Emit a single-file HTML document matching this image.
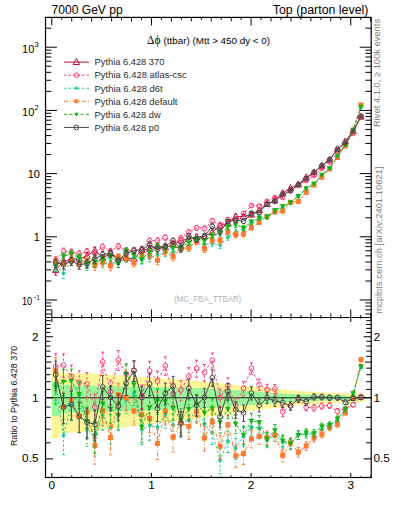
<!DOCTYPE html><html><head><meta charset="utf-8"><style>html,body{margin:0;padding:0;background:#fff;}svg{display:block;}text{font-family:"Liberation Sans",sans-serif;}</style></head><body>
<svg width="393" height="512" viewBox="0 0 393 512">
<defs><clipPath id="cm"><rect x="45.5" y="17.4" width="325.7" height="300.1"/></clipPath>
<clipPath id="cr"><rect x="45.5" y="317.5" width="325.7" height="160.0"/></clipPath></defs>
<g clip-path="url(#cr)">
<polygon points="51.80,370.07 59.63,370.07 59.63,372.68 67.45,372.68 67.45,372.90 75.28,372.90 75.28,373.13 83.11,373.13 83.11,373.35 90.93,373.35 90.93,373.85 98.76,373.85 98.76,374.35 106.59,374.35 106.59,374.86 114.41,374.86 114.41,375.37 122.24,375.37 122.24,375.92 130.06,375.92 130.06,376.47 137.89,376.47 137.89,377.03 145.72,377.03 145.72,377.58 153.54,377.58 153.54,378.15 161.37,378.15 161.37,378.71 169.20,378.71 169.20,379.28 177.02,379.28 177.02,379.85 184.85,379.85 184.85,380.43 192.68,380.43 192.68,381.01 200.50,381.01 200.50,381.78 208.33,381.78 208.33,382.55 216.16,382.55 216.16,383.33 223.98,383.33 223.98,384.12 231.81,384.12 231.81,384.92 239.64,384.92 239.64,385.72 247.46,385.72 247.46,386.47 255.29,386.47 255.29,387.22 263.12,387.22 263.12,387.98 270.94,387.98 270.94,388.73 278.77,388.73 278.77,389.49 286.59,389.49 286.59,390.25 294.42,390.25 294.42,391.02 302.25,391.02 302.25,391.43 310.07,391.43 310.07,391.84 317.90,391.84 317.90,392.25 325.73,392.25 325.73,392.67 333.55,392.67 333.55,392.94 341.38,392.94 341.38,393.21 349.21,393.21 349.21,393.48 357.03,393.48 357.03,393.75 364.86,393.75 364.86,402.04 357.03,402.04 357.03,402.34 349.21,402.34 349.21,402.64 341.38,402.64 341.38,402.95 333.55,402.95 333.55,403.25 325.73,403.25 325.73,403.72 317.90,403.72 317.90,404.19 310.07,404.19 310.07,404.67 302.25,404.67 302.25,405.14 294.42,405.14 294.42,406.06 286.59,406.06 286.59,406.98 278.77,406.98 278.77,407.92 270.94,407.92 270.94,408.86 263.12,408.86 263.12,409.83 255.29,409.83 255.29,410.81 247.46,410.81 247.46,411.80 239.64,411.80 239.64,412.89 231.81,412.89 231.81,414.00 223.98,414.00 223.98,415.12 216.16,415.12 216.16,416.25 208.33,416.25 208.33,417.40 200.50,417.40 200.50,418.56 192.68,418.56 192.68,419.46 184.85,419.46 184.85,420.36 177.02,420.36 177.02,421.28 169.20,421.28 169.20,422.20 161.37,422.20 161.37,423.14 153.54,423.14 153.54,424.08 145.72,424.08 145.72,425.04 137.89,425.04 137.89,426.00 130.06,426.00 130.06,426.98 122.24,426.98 122.24,427.96 114.41,427.96 114.41,428.90 106.59,428.90 106.59,429.85 98.76,429.85 98.76,430.80 90.93,430.80 90.93,431.77 83.11,431.77 83.11,432.20 75.28,432.20 75.28,432.63 67.45,432.63 67.45,433.07 59.63,433.07 59.63,438.49 51.80,438.49" fill="#fdf59a"/>
<polygon points="51.80,382.48 59.63,382.48 59.63,384.73 67.45,384.73 67.45,384.98 75.28,384.98 75.28,385.24 83.11,385.24 83.11,385.49 90.93,385.49 90.93,385.68 98.76,385.68 98.76,385.87 106.59,385.87 106.59,386.07 114.41,386.07 114.41,386.26 122.24,386.26 122.24,386.41 130.06,386.41 130.06,386.57 137.89,386.57 137.89,386.72 145.72,386.72 145.72,386.88 153.54,386.88 153.54,387.04 161.37,387.04 161.37,387.27 169.20,387.27 169.20,387.50 177.02,387.50 177.02,387.74 184.85,387.74 184.85,387.98 192.68,387.98 192.68,388.21 200.50,388.21 200.50,388.61 208.33,388.61 208.33,389.01 216.16,389.01 216.16,389.41 223.98,389.41 223.98,389.81 231.81,389.81 231.81,390.21 239.64,390.21 239.64,390.61 247.46,390.61 247.46,391.24 255.29,391.24 255.29,391.87 263.12,391.87 263.12,392.50 270.94,392.50 270.94,392.96 278.77,392.96 278.77,393.42 286.59,393.42 286.59,393.88 294.42,393.88 294.42,394.35 302.25,394.35 302.25,394.56 310.07,394.56 310.07,394.77 317.90,394.77 317.90,394.98 325.73,394.98 325.73,395.20 333.55,395.20 333.55,395.37 341.38,395.37 341.38,395.54 349.21,395.54 349.21,395.71 357.03,395.71 357.03,395.88 364.86,395.88 364.86,399.76 357.03,399.76 357.03,399.94 349.21,399.94 349.21,400.12 341.38,400.12 341.38,400.30 333.55,400.30 333.55,400.48 325.73,400.48 325.73,400.71 317.90,400.71 317.90,400.94 310.07,400.94 310.07,401.17 302.25,401.17 302.25,401.40 294.42,401.40 294.42,401.90 286.59,401.90 286.59,402.41 278.77,402.41 278.77,402.92 270.94,402.92 270.94,403.44 263.12,403.44 263.12,404.16 255.29,404.16 255.29,404.89 247.46,404.89 247.46,405.62 239.64,405.62 239.64,406.11 231.81,406.11 231.81,406.59 223.98,406.59 223.98,407.08 216.16,407.08 216.16,407.57 208.33,407.57 208.33,408.06 200.50,408.06 200.50,408.56 192.68,408.56 192.68,408.86 184.85,408.86 184.85,409.16 177.02,409.16 177.02,409.46 169.20,409.46 169.20,409.76 161.37,409.76 161.37,410.07 153.54,410.07 153.54,410.27 145.72,410.27 145.72,410.47 137.89,410.47 137.89,410.68 130.06,410.68 130.06,410.88 122.24,410.88 122.24,411.08 114.41,411.08 114.41,411.34 106.59,411.34 106.59,411.60 98.76,411.60 98.76,411.86 90.93,411.86 90.93,412.11 83.11,412.11 83.11,412.46 75.28,412.46 75.28,412.81 67.45,412.81 67.45,413.16 59.63,413.16 59.63,416.36 51.80,416.36" fill="#9af59a"/>
</g>
<line x1="45.5" y1="397.8" x2="371.2" y2="397.8" stroke="#1a1a1a" stroke-width="1.1"/>
<g clip-path="url(#cr)">
<polyline points="55.7,366.8 63.5,364.9 71.4,376.4 79.2,382.3 87.0,384.0 94.8,406.9 102.7,361.9 110.5,391.6 118.3,360.0 126.2,374.0 134.0,370.5 141.8,396.0 149.6,370.9 157.5,381.0 165.3,365.8 173.1,393.9 180.9,390.0 188.8,376.3 196.6,368.4 204.4,372.5 212.2,360.2 220.1,397.5 227.9,385.3 235.7,405.8 243.5,388.4 251.4,368.4 259.2,384.5 267.0,389.4 274.9,389.1 282.7,411.6 290.5,405.8 298.3,398.8 306.2,407.3 314.0,407.8 321.8,406.0 329.6,405.5 337.5,411.2 345.3,409.0 353.1,404.7 360.9,396.6" fill="none" stroke="#ff3c6e" stroke-width="1" stroke-dasharray="2.5,2"/>
<path d="M55.7 353.8V364.2M55.7 369.4V382.1M63.5 353.9V362.3M63.5 367.5V377.4M71.4 365.0V373.8M71.4 379.0V389.6M79.2 370.7V379.7M79.2 384.9V395.6M87.0 372.6V381.4M87.0 386.6V397.2M94.8 394.2V404.3M94.8 409.5V421.8M102.7 352.1V359.3M102.7 364.5V373.0M110.5 380.2V389.0M110.5 394.2V404.6M118.3 350.6V357.4M118.3 362.6V370.6M126.2 364.0V371.4M126.2 376.6V385.3M134.0 360.8V367.9M134.0 373.1V381.4M141.8 385.0V393.4M141.8 398.6V408.5M149.6 361.4V368.3M149.6 373.5V381.5M157.5 371.2V378.4M157.5 383.6V392.1M165.3 356.9V363.2M165.3 368.4V375.7M173.1 383.8V391.3M173.1 396.5V405.3M180.9 380.4V387.4M180.9 392.6V400.8M188.8 367.6V373.7M188.8 378.9V386.0M196.6 360.2V365.8M196.6 371.0V377.4M204.4 364.5V369.9M204.4 375.1V381.3M212.2 353.0V357.6M212.2 362.8V368.0M220.1 389.1V394.9M220.1 400.1V406.8M227.9 377.8V382.7M227.9 387.9V393.5M235.7 397.9V403.2M235.7 408.4V414.5M243.5 381.6V385.8M243.5 391.0V395.8M251.4 362.8V365.8M251.4 371.0V374.4M259.2 379.0V381.9M259.2 387.1V390.4M267.0 384.3V386.8M267.0 392.0V394.8M274.9 384.5V386.5M274.9 391.7V394.0M282.7 406.9V409.0M282.7 414.2V416.6M290.5 401.7V403.2M290.5 408.4V410.1M298.3 395.3V396.1M298.3 401.4V402.4M306.2 403.9V404.7M306.2 409.9V410.9M314.0 404.6V405.2M314.0 410.4V411.1M321.8 403.1V403.4M321.8 408.6V409.1M329.6 402.8V402.9M329.6 408.1V408.3M337.5 408.6V408.6M337.5 413.9V414.0" stroke="#ff3c6e" stroke-width="1" fill="none" stroke-dasharray="2.5,2"/>
<path d="M54.2 353.8h3M54.2 382.1h3M62.0 353.9h3M62.0 377.4h3M69.9 365.0h3M69.9 389.6h3M77.7 370.7h3M77.7 395.6h3M85.5 372.6h3M85.5 397.2h3M93.3 394.2h3M93.3 421.8h3M101.2 352.1h3M101.2 373.0h3M109.0 380.2h3M109.0 404.6h3M116.8 350.6h3M116.8 370.6h3M124.7 364.0h3M124.7 385.3h3M132.5 360.8h3M132.5 381.4h3M140.3 385.0h3M140.3 408.5h3M148.1 361.4h3M148.1 381.5h3M156.0 371.2h3M156.0 392.1h3M163.8 356.9h3M163.8 375.7h3M171.6 383.8h3M171.6 405.3h3M179.4 380.4h3M179.4 400.8h3M187.3 367.6h3M187.3 386.0h3M195.1 360.2h3M195.1 377.4h3M202.9 364.5h3M202.9 381.3h3M210.7 353.0h3M210.7 368.0h3M218.6 389.1h3M218.6 406.8h3M226.4 377.8h3M226.4 393.5h3M234.2 397.9h3M234.2 414.5h3M242.0 381.6h3M242.0 395.8h3M249.9 362.8h3M249.9 374.4h3M257.7 379.0h3M257.7 390.4h3M265.5 384.3h3M265.5 394.8h3M273.4 384.5h3M273.4 394.0h3M281.2 406.9h3M281.2 416.6h3M289.0 401.7h3M289.0 410.1h3M296.8 395.3h3M296.8 402.4h3M304.7 403.9h3M304.7 410.9h3M312.5 404.6h3M312.5 411.1h3M320.3 403.1h3M320.3 409.1h3M328.1 402.8h3M328.1 408.3h3M336.0 408.6h3M336.0 414.0h3M343.8 406.6h3M343.8 411.5h3M351.6 402.5h3M351.6 406.9h3M359.4 394.7h3M359.4 398.5h3" stroke="#ff3c6e" stroke-width="1" fill="none"/>
<circle cx="55.71" cy="366.80" r="2.40" fill="none" stroke="#ff3c6e" stroke-width="1"/><circle cx="63.54" cy="364.90" r="2.40" fill="none" stroke="#ff3c6e" stroke-width="1"/><circle cx="71.37" cy="376.40" r="2.40" fill="none" stroke="#ff3c6e" stroke-width="1"/><circle cx="79.19" cy="382.30" r="2.40" fill="none" stroke="#ff3c6e" stroke-width="1"/><circle cx="87.02" cy="384.00" r="2.40" fill="none" stroke="#ff3c6e" stroke-width="1"/><circle cx="94.85" cy="406.90" r="2.40" fill="none" stroke="#ff3c6e" stroke-width="1"/><circle cx="102.67" cy="361.90" r="2.40" fill="none" stroke="#ff3c6e" stroke-width="1"/><circle cx="110.50" cy="391.60" r="2.40" fill="none" stroke="#ff3c6e" stroke-width="1"/><circle cx="118.33" cy="360.00" r="2.40" fill="none" stroke="#ff3c6e" stroke-width="1"/><circle cx="126.15" cy="374.00" r="2.40" fill="none" stroke="#ff3c6e" stroke-width="1"/><circle cx="133.98" cy="370.50" r="2.40" fill="none" stroke="#ff3c6e" stroke-width="1"/><circle cx="141.80" cy="396.00" r="2.40" fill="none" stroke="#ff3c6e" stroke-width="1"/><circle cx="149.63" cy="370.90" r="2.40" fill="none" stroke="#ff3c6e" stroke-width="1"/><circle cx="157.46" cy="381.00" r="2.40" fill="none" stroke="#ff3c6e" stroke-width="1"/><circle cx="165.28" cy="365.80" r="2.40" fill="none" stroke="#ff3c6e" stroke-width="1"/><circle cx="173.11" cy="393.90" r="2.40" fill="none" stroke="#ff3c6e" stroke-width="1"/><circle cx="180.94" cy="390.00" r="2.40" fill="none" stroke="#ff3c6e" stroke-width="1"/><circle cx="188.76" cy="376.30" r="2.40" fill="none" stroke="#ff3c6e" stroke-width="1"/><circle cx="196.59" cy="368.40" r="2.40" fill="none" stroke="#ff3c6e" stroke-width="1"/><circle cx="204.42" cy="372.50" r="2.40" fill="none" stroke="#ff3c6e" stroke-width="1"/><circle cx="212.24" cy="360.20" r="2.40" fill="none" stroke="#ff3c6e" stroke-width="1"/><circle cx="220.07" cy="397.50" r="2.40" fill="none" stroke="#ff3c6e" stroke-width="1"/><circle cx="227.90" cy="385.30" r="2.40" fill="none" stroke="#ff3c6e" stroke-width="1"/><circle cx="235.72" cy="405.80" r="2.40" fill="none" stroke="#ff3c6e" stroke-width="1"/><circle cx="243.55" cy="388.40" r="2.40" fill="none" stroke="#ff3c6e" stroke-width="1"/><circle cx="251.38" cy="368.40" r="2.40" fill="none" stroke="#ff3c6e" stroke-width="1"/><circle cx="259.20" cy="384.50" r="2.40" fill="none" stroke="#ff3c6e" stroke-width="1"/><circle cx="267.03" cy="389.40" r="2.40" fill="none" stroke="#ff3c6e" stroke-width="1"/><circle cx="274.86" cy="389.10" r="2.40" fill="none" stroke="#ff3c6e" stroke-width="1"/><circle cx="282.68" cy="411.60" r="2.40" fill="none" stroke="#ff3c6e" stroke-width="1"/><circle cx="290.51" cy="405.80" r="2.40" fill="none" stroke="#ff3c6e" stroke-width="1"/><circle cx="298.33" cy="398.75" r="2.40" fill="none" stroke="#ff3c6e" stroke-width="1"/><circle cx="306.16" cy="407.30" r="2.40" fill="none" stroke="#ff3c6e" stroke-width="1"/><circle cx="313.99" cy="407.80" r="2.40" fill="none" stroke="#ff3c6e" stroke-width="1"/><circle cx="321.81" cy="406.00" r="2.40" fill="none" stroke="#ff3c6e" stroke-width="1"/><circle cx="329.64" cy="405.50" r="2.40" fill="none" stroke="#ff3c6e" stroke-width="1"/><circle cx="337.47" cy="411.25" r="2.40" fill="none" stroke="#ff3c6e" stroke-width="1"/><circle cx="345.29" cy="409.00" r="2.40" fill="none" stroke="#ff3c6e" stroke-width="1"/><circle cx="353.12" cy="404.70" r="2.40" fill="none" stroke="#ff3c6e" stroke-width="1"/><circle cx="360.95" cy="396.60" r="2.40" fill="none" stroke="#ff3c6e" stroke-width="1"/>
</g>
<g clip-path="url(#cr)">
<polyline points="55.7,383.6 63.5,435.3 71.4,404.5 79.2,394.4 87.0,429.0 94.8,438.0 102.7,415.0 110.5,427.8 118.3,415.0 126.2,400.0 134.0,393.1 141.8,429.4 149.6,425.5 157.5,427.0 165.3,415.0 173.1,425.0 180.9,424.0 188.8,420.0 196.6,410.0 204.4,423.9 212.2,432.5 220.1,460.3 227.9,441.1 235.7,448.1 243.5,436.4 251.4,427.0 259.2,427.8 267.0,440.5 274.9,435.0 282.7,442.0 290.5,444.4 298.3,435.0 306.2,434.0 314.0,435.0 321.8,429.5 329.6,426.0 337.5,420.0 345.3,410.0 353.1,395.0 360.9,367.0" fill="none" stroke="#22cc8e" stroke-width="1" stroke-dasharray="2.5,2"/>
<path d="M55.7 369.4V383.6M55.7 383.6V400.6M63.5 419.4V435.3M63.5 435.3V454.7M71.4 391.2V404.5M71.4 404.5V420.1M79.2 382.1V394.4M79.2 394.4V408.8M87.0 414.5V429.0M87.0 429.0V446.4M94.8 423.0V438.0M94.8 438.0V456.1M102.7 401.9V415.0M102.7 415.0V430.3M110.5 414.1V427.8M110.5 427.8V444.1M118.3 402.4V415.0M118.3 415.0V429.8M126.2 388.5V400.0M126.2 400.0V413.3M134.0 382.1V393.1M134.0 393.1V405.6M141.8 416.3V429.4M141.8 429.4V444.8M149.6 412.8V425.5M149.6 425.5V440.3M157.5 414.4V427.0M157.5 427.0V441.7M165.3 403.5V415.0M165.3 415.0V428.3M173.1 413.1V425.0M173.1 425.0V438.8M180.9 412.4V424.0M180.9 424.0V437.3M188.8 408.9V420.0M188.8 420.0V432.7M196.6 399.8V410.0M196.6 410.0V421.6M204.4 413.3V423.9M204.4 423.9V435.9M212.2 421.9V432.5M212.2 432.5V444.5M220.1 448.6V460.3M220.1 460.3V473.8M227.9 431.0V441.1M227.9 441.1V452.5M235.7 438.1V448.1M235.7 448.1V459.3M243.5 427.5V436.4M243.5 436.4V446.3M251.4 419.3V427.0M251.4 427.0V435.4M259.2 420.8V427.8M259.2 427.8V435.4M267.0 433.8V440.5M267.0 440.5V447.7M274.9 429.1V435.0M274.9 435.0V441.4M282.7 436.4V442.0M282.7 442.0V448.0M290.5 439.3V444.4M290.5 444.4V449.8M298.3 430.8V435.0M298.3 435.0V439.5M306.2 430.0V434.0M306.2 434.0V438.2M314.0 431.3V435.0M314.0 435.0V438.9M321.8 426.1V429.5M321.8 429.5V433.0M329.6 423.0V426.0M329.6 426.0V429.2M337.5 417.2V420.0M337.5 420.0V422.8M345.3 407.6V410.0M345.3 410.0V412.5M353.1 392.9V395.0M353.1 395.0V397.1M360.9 365.4V367.0M360.9 367.0V368.6" stroke="#22cc8e" stroke-width="1" fill="none" stroke-dasharray="2.5,2"/>
<path d="M54.2 369.4h3M54.2 400.6h3M62.0 419.4h3M62.0 454.7h3M69.9 391.2h3M69.9 420.1h3M77.7 382.1h3M77.7 408.8h3M85.5 414.5h3M85.5 446.4h3M93.3 423.0h3M93.3 456.1h3M101.2 401.9h3M101.2 430.3h3M109.0 414.1h3M109.0 444.1h3M116.8 402.4h3M116.8 429.8h3M124.7 388.5h3M124.7 413.3h3M132.5 382.1h3M132.5 405.6h3M140.3 416.3h3M140.3 444.8h3M148.1 412.8h3M148.1 440.3h3M156.0 414.4h3M156.0 441.7h3M163.8 403.5h3M163.8 428.3h3M171.6 413.1h3M171.6 438.8h3M179.4 412.4h3M179.4 437.3h3M187.3 408.9h3M187.3 432.7h3M195.1 399.8h3M195.1 421.6h3M202.9 413.3h3M202.9 435.9h3M210.7 421.9h3M210.7 444.5h3M218.6 448.6h3M218.6 473.8h3M226.4 431.0h3M226.4 452.5h3M234.2 438.1h3M234.2 459.3h3M242.0 427.5h3M242.0 446.3h3M249.9 419.3h3M249.9 435.4h3M257.7 420.8h3M257.7 435.4h3M265.5 433.8h3M265.5 447.7h3M273.4 429.1h3M273.4 441.4h3M281.2 436.4h3M281.2 448.0h3M289.0 439.3h3M289.0 449.8h3M296.8 430.8h3M296.8 439.5h3M304.7 430.0h3M304.7 438.2h3M312.5 431.3h3M312.5 438.9h3M320.3 426.1h3M320.3 433.0h3M328.1 423.0h3M328.1 429.2h3M336.0 417.2h3M336.0 422.8h3M343.8 407.6h3M343.8 412.5h3M351.6 392.9h3M351.6 397.1h3M359.4 365.4h3M359.4 368.6h3" stroke="#22cc8e" stroke-width="1" fill="none"/>
<polygon points="55.71,380.80 57.95,383.60 55.71,386.40 53.47,383.60" fill="#22cc8e"/><polygon points="63.54,432.50 65.78,435.30 63.54,438.10 61.30,435.30" fill="#22cc8e"/><polygon points="71.37,401.70 73.61,404.50 71.37,407.30 69.13,404.50" fill="#22cc8e"/><polygon points="79.19,391.60 81.43,394.40 79.19,397.20 76.95,394.40" fill="#22cc8e"/><polygon points="87.02,426.20 89.26,429.00 87.02,431.80 84.78,429.00" fill="#22cc8e"/><polygon points="94.85,435.20 97.09,438.00 94.85,440.80 92.61,438.00" fill="#22cc8e"/><polygon points="102.67,412.20 104.91,415.00 102.67,417.80 100.43,415.00" fill="#22cc8e"/><polygon points="110.50,425.00 112.74,427.80 110.50,430.60 108.26,427.80" fill="#22cc8e"/><polygon points="118.33,412.20 120.57,415.00 118.33,417.80 116.09,415.00" fill="#22cc8e"/><polygon points="126.15,397.20 128.39,400.00 126.15,402.80 123.91,400.00" fill="#22cc8e"/><polygon points="133.98,390.30 136.22,393.10 133.98,395.90 131.74,393.10" fill="#22cc8e"/><polygon points="141.80,426.60 144.04,429.40 141.80,432.20 139.56,429.40" fill="#22cc8e"/><polygon points="149.63,422.70 151.87,425.50 149.63,428.30 147.39,425.50" fill="#22cc8e"/><polygon points="157.46,424.20 159.70,427.00 157.46,429.80 155.22,427.00" fill="#22cc8e"/><polygon points="165.28,412.20 167.52,415.00 165.28,417.80 163.04,415.00" fill="#22cc8e"/><polygon points="173.11,422.20 175.35,425.00 173.11,427.80 170.87,425.00" fill="#22cc8e"/><polygon points="180.94,421.20 183.18,424.00 180.94,426.80 178.70,424.00" fill="#22cc8e"/><polygon points="188.76,417.20 191.00,420.00 188.76,422.80 186.52,420.00" fill="#22cc8e"/><polygon points="196.59,407.20 198.83,410.00 196.59,412.80 194.35,410.00" fill="#22cc8e"/><polygon points="204.42,421.10 206.66,423.90 204.42,426.70 202.18,423.90" fill="#22cc8e"/><polygon points="212.24,429.70 214.48,432.50 212.24,435.30 210.00,432.50" fill="#22cc8e"/><polygon points="220.07,457.50 222.31,460.30 220.07,463.10 217.83,460.30" fill="#22cc8e"/><polygon points="227.90,438.30 230.14,441.10 227.90,443.90 225.66,441.10" fill="#22cc8e"/><polygon points="235.72,445.30 237.96,448.10 235.72,450.90 233.48,448.10" fill="#22cc8e"/><polygon points="243.55,433.60 245.79,436.40 243.55,439.20 241.31,436.40" fill="#22cc8e"/><polygon points="251.38,424.20 253.62,427.00 251.38,429.80 249.14,427.00" fill="#22cc8e"/><polygon points="259.20,425.00 261.44,427.80 259.20,430.60 256.96,427.80" fill="#22cc8e"/><polygon points="267.03,437.70 269.27,440.50 267.03,443.30 264.79,440.50" fill="#22cc8e"/><polygon points="274.86,432.20 277.10,435.00 274.86,437.80 272.62,435.00" fill="#22cc8e"/><polygon points="282.68,439.20 284.92,442.00 282.68,444.80 280.44,442.00" fill="#22cc8e"/><polygon points="290.51,441.60 292.75,444.40 290.51,447.20 288.27,444.40" fill="#22cc8e"/><polygon points="298.33,432.20 300.57,435.00 298.33,437.80 296.09,435.00" fill="#22cc8e"/><polygon points="306.16,431.20 308.40,434.00 306.16,436.80 303.92,434.00" fill="#22cc8e"/><polygon points="313.99,432.20 316.23,435.00 313.99,437.80 311.75,435.00" fill="#22cc8e"/><polygon points="321.81,426.70 324.05,429.50 321.81,432.30 319.57,429.50" fill="#22cc8e"/><polygon points="329.64,423.20 331.88,426.00 329.64,428.80 327.40,426.00" fill="#22cc8e"/><polygon points="337.47,417.20 339.71,420.00 337.47,422.80 335.23,420.00" fill="#22cc8e"/><polygon points="345.29,407.20 347.53,410.00 345.29,412.80 343.05,410.00" fill="#22cc8e"/><polygon points="353.12,392.20 355.36,395.00 353.12,397.80 350.88,395.00" fill="#22cc8e"/><polygon points="360.95,364.20 363.19,367.00 360.95,369.80 358.71,367.00" fill="#22cc8e"/>
</g>
<g clip-path="url(#cr)">
<polyline points="55.7,371.0 63.5,407.0 71.4,400.5 79.2,416.0 87.0,412.0 94.8,445.3 102.7,410.8 110.5,437.5 118.3,394.7 126.2,397.5 134.0,411.0 141.8,414.5 149.6,418.3 157.5,443.4 165.3,411.0 173.1,437.2 180.9,423.0 188.8,426.3 196.6,411.6 204.4,438.0 212.2,421.6 220.1,446.3 227.9,424.7 235.7,455.9 243.5,453.6 251.4,438.8 259.2,436.4 267.0,437.6 274.9,435.0 282.7,455.3 290.5,442.8 298.3,452.2 306.2,445.9 314.0,438.1 321.8,434.2 329.6,427.3 337.5,424.2 345.3,412.5 353.1,398.4 360.9,359.7" fill="none" stroke="#ff7a30" stroke-width="1" stroke-dasharray="4,2,1,2"/>
<path d="M55.7 357.7V371.0M55.7 371.0V386.7M63.5 393.3V407.0M63.5 407.0V423.3M71.4 387.5V400.5M71.4 400.5V415.8M79.2 402.2V416.0M79.2 416.0V432.4M87.0 398.7V412.0M87.0 412.0V427.6M94.8 429.7V445.3M94.8 445.3V464.2M102.7 398.0V410.8M102.7 410.8V425.7M110.5 423.0V437.5M110.5 437.5V454.8M118.3 383.3V394.7M118.3 394.7V407.7M126.2 386.1V397.5M126.2 397.5V410.6M134.0 399.0V411.0M134.0 411.0V425.0M141.8 402.4V414.5M141.8 414.5V428.5M149.6 406.1V418.3M149.6 418.3V432.4M157.5 429.7V443.4M157.5 443.4V459.6M165.3 399.7V411.0M165.3 411.0V424.0M173.1 424.5V437.2M173.1 437.2V452.0M180.9 411.5V423.0M180.9 423.0V436.2M188.8 414.9V426.3M188.8 426.3V439.5M196.6 401.3V411.6M196.6 411.6V423.3M204.4 426.6V438.0M204.4 438.0V451.1M212.2 411.6V421.6M212.2 421.6V432.9M220.1 435.4V446.3M220.1 446.3V458.7M227.9 415.5V424.7M227.9 424.7V435.0M235.7 445.5V455.9M235.7 455.9V467.7M243.5 443.9V453.6M243.5 453.6V464.5M251.4 430.6V438.8M251.4 438.8V447.8M259.2 429.1V436.4M259.2 436.4V444.4M267.0 431.0V437.6M267.0 437.6V444.7M274.9 429.1V435.0M274.9 435.0V441.4M282.7 449.3V455.3M282.7 455.3V461.8M290.5 437.8V442.8M290.5 442.8V448.1M298.3 447.5V452.2M298.3 452.2V457.1M306.2 441.7V445.9M306.2 445.9V450.4M314.0 434.3V438.1M314.0 438.1V442.1M321.8 430.7V434.2M321.8 434.2V437.8M329.6 424.2V427.3M329.6 427.3V430.5M337.5 421.4V424.2M337.5 424.2V427.1M345.3 410.0V412.5M345.3 412.5V415.0M353.1 396.3V398.4M353.1 398.4V400.5M360.9 358.2V359.7M360.9 359.7V361.3" stroke="#ff7a30" stroke-width="1" fill="none" stroke-dasharray="4,2,1,2"/>
<path d="M54.2 357.7h3M54.2 386.7h3M62.0 393.3h3M62.0 423.3h3M69.9 387.5h3M69.9 415.8h3M77.7 402.2h3M77.7 432.4h3M85.5 398.7h3M85.5 427.6h3M93.3 429.7h3M93.3 464.2h3M101.2 398.0h3M101.2 425.7h3M109.0 423.0h3M109.0 454.8h3M116.8 383.3h3M116.8 407.7h3M124.7 386.1h3M124.7 410.6h3M132.5 399.0h3M132.5 425.0h3M140.3 402.4h3M140.3 428.5h3M148.1 406.1h3M148.1 432.4h3M156.0 429.7h3M156.0 459.6h3M163.8 399.7h3M163.8 424.0h3M171.6 424.5h3M171.6 452.0h3M179.4 411.5h3M179.4 436.2h3M187.3 414.9h3M187.3 439.5h3M195.1 401.3h3M195.1 423.3h3M202.9 426.6h3M202.9 451.1h3M210.7 411.6h3M210.7 432.9h3M218.6 435.4h3M218.6 458.7h3M226.4 415.5h3M226.4 435.0h3M234.2 445.5h3M234.2 467.7h3M242.0 443.9h3M242.0 464.5h3M249.9 430.6h3M249.9 447.8h3M257.7 429.1h3M257.7 444.4h3M265.5 431.0h3M265.5 444.7h3M273.4 429.1h3M273.4 441.4h3M281.2 449.3h3M281.2 461.8h3M289.0 437.8h3M289.0 448.1h3M296.8 447.5h3M296.8 457.1h3M304.7 441.7h3M304.7 450.4h3M312.5 434.3h3M312.5 442.1h3M320.3 430.7h3M320.3 437.8h3M328.1 424.2h3M328.1 430.5h3M336.0 421.4h3M336.0 427.1h3M343.8 410.0h3M343.8 415.0h3M351.6 396.3h3M351.6 400.5h3M359.4 358.2h3M359.4 361.3h3" stroke="#ff7a30" stroke-width="1" fill="none"/>
<rect x="53.21" y="368.50" width="5.00" height="5.00" fill="#ff7a30"/><rect x="61.04" y="404.50" width="5.00" height="5.00" fill="#ff7a30"/><rect x="68.87" y="398.00" width="5.00" height="5.00" fill="#ff7a30"/><rect x="76.69" y="413.50" width="5.00" height="5.00" fill="#ff7a30"/><rect x="84.52" y="409.50" width="5.00" height="5.00" fill="#ff7a30"/><rect x="92.35" y="442.80" width="5.00" height="5.00" fill="#ff7a30"/><rect x="100.17" y="408.30" width="5.00" height="5.00" fill="#ff7a30"/><rect x="108.00" y="435.00" width="5.00" height="5.00" fill="#ff7a30"/><rect x="115.83" y="392.20" width="5.00" height="5.00" fill="#ff7a30"/><rect x="123.65" y="395.00" width="5.00" height="5.00" fill="#ff7a30"/><rect x="131.48" y="408.50" width="5.00" height="5.00" fill="#ff7a30"/><rect x="139.30" y="412.00" width="5.00" height="5.00" fill="#ff7a30"/><rect x="147.13" y="415.80" width="5.00" height="5.00" fill="#ff7a30"/><rect x="154.96" y="440.90" width="5.00" height="5.00" fill="#ff7a30"/><rect x="162.78" y="408.50" width="5.00" height="5.00" fill="#ff7a30"/><rect x="170.61" y="434.70" width="5.00" height="5.00" fill="#ff7a30"/><rect x="178.44" y="420.50" width="5.00" height="5.00" fill="#ff7a30"/><rect x="186.26" y="423.80" width="5.00" height="5.00" fill="#ff7a30"/><rect x="194.09" y="409.10" width="5.00" height="5.00" fill="#ff7a30"/><rect x="201.92" y="435.50" width="5.00" height="5.00" fill="#ff7a30"/><rect x="209.74" y="419.10" width="5.00" height="5.00" fill="#ff7a30"/><rect x="217.57" y="443.80" width="5.00" height="5.00" fill="#ff7a30"/><rect x="225.40" y="422.20" width="5.00" height="5.00" fill="#ff7a30"/><rect x="233.22" y="453.40" width="5.00" height="5.00" fill="#ff7a30"/><rect x="241.05" y="451.10" width="5.00" height="5.00" fill="#ff7a30"/><rect x="248.88" y="436.25" width="5.00" height="5.00" fill="#ff7a30"/><rect x="256.70" y="433.90" width="5.00" height="5.00" fill="#ff7a30"/><rect x="264.53" y="435.10" width="5.00" height="5.00" fill="#ff7a30"/><rect x="272.36" y="432.50" width="5.00" height="5.00" fill="#ff7a30"/><rect x="280.18" y="452.80" width="5.00" height="5.00" fill="#ff7a30"/><rect x="288.01" y="440.30" width="5.00" height="5.00" fill="#ff7a30"/><rect x="295.83" y="449.70" width="5.00" height="5.00" fill="#ff7a30"/><rect x="303.66" y="443.40" width="5.00" height="5.00" fill="#ff7a30"/><rect x="311.49" y="435.60" width="5.00" height="5.00" fill="#ff7a30"/><rect x="319.31" y="431.70" width="5.00" height="5.00" fill="#ff7a30"/><rect x="327.14" y="424.80" width="5.00" height="5.00" fill="#ff7a30"/><rect x="334.97" y="421.70" width="5.00" height="5.00" fill="#ff7a30"/><rect x="342.79" y="410.00" width="5.00" height="5.00" fill="#ff7a30"/><rect x="350.62" y="395.90" width="5.00" height="5.00" fill="#ff7a30"/><rect x="358.45" y="357.20" width="5.00" height="5.00" fill="#ff7a30"/>
</g>
<g clip-path="url(#cr)">
<polyline points="55.7,386.8 63.5,381.6 71.4,380.8 79.2,394.2 87.0,421.0 94.8,435.6 102.7,403.8 110.5,408.5 118.3,415.3 126.2,374.0 134.0,384.5 141.8,427.0 149.6,407.4 157.5,400.0 165.3,401.3 173.1,408.2 180.9,420.0 188.8,409.0 196.6,404.4 204.4,412.5 212.2,408.3 220.1,422.3 227.9,409.0 235.7,423.9 243.5,434.8 251.4,420.8 259.2,422.3 267.0,439.0 274.9,430.3 282.7,440.5 290.5,443.6 298.3,435.0 306.2,432.7 314.0,433.4 321.8,426.4 329.6,425.0 337.5,418.8 345.3,409.4 353.1,393.4 360.9,366.4" fill="none" stroke="#16b316" stroke-width="1" stroke-dasharray="3,2"/>
<path d="M55.7 372.3V386.8M55.7 386.8V404.1M63.5 369.6V381.6M63.5 381.6V395.5M71.4 369.1V380.8M71.4 380.8V394.3M79.2 381.9V394.2M79.2 394.2V408.5M87.0 407.1V421.0M87.0 421.0V437.5M94.8 420.8V435.6M94.8 435.6V453.4M102.7 391.5V403.8M102.7 403.8V418.1M110.5 396.1V408.5M110.5 408.5V423.0M118.3 402.6V415.3M118.3 415.3V430.1M126.2 364.0V374.0M126.2 374.0V385.3M134.0 374.0V384.5M134.0 384.5V396.4M141.8 414.1V427.0M141.8 427.0V442.2M149.6 395.9V407.4M149.6 407.4V420.6M157.5 389.1V400.0M157.5 400.0V412.4M165.3 390.6V401.3M165.3 401.3V413.5M173.1 397.3V408.2M173.1 408.2V420.6M180.9 408.7V420.0M180.9 420.0V433.0M188.8 398.6V409.0M188.8 409.0V420.8M196.6 394.5V404.4M196.6 404.4V415.6M204.4 402.6V412.5M204.4 412.5V423.7M212.2 399.0V408.3M212.2 408.3V418.7M220.1 412.7V422.3M220.1 422.3V433.1M227.9 400.5V409.0M227.9 409.0V418.4M235.7 415.2V423.9M235.7 423.9V433.6M243.5 426.0V434.8M243.5 434.8V444.6M251.4 413.4V420.8M251.4 420.8V428.9M259.2 415.5V422.3M259.2 422.3V429.6M267.0 432.4V439.0M267.0 439.0V446.2M274.9 424.5V430.3M274.9 430.3V436.5M282.7 435.0V440.5M282.7 440.5V446.4M290.5 438.6V443.6M290.5 443.6V449.0M298.3 430.8V435.0M298.3 435.0V439.5M306.2 428.8V432.7M306.2 432.7V436.8M314.0 429.7V433.4M314.0 433.4V437.3M321.8 423.1V426.4M321.8 426.4V429.8M329.6 422.0V425.0M329.6 425.0V428.1M337.5 416.0V418.8M337.5 418.8V421.6M345.3 407.0V409.4M345.3 409.4V411.9M353.1 391.4V393.4M353.1 393.4V395.5M360.9 364.8V366.4M360.9 366.4V368.0" stroke="#16b316" stroke-width="1" fill="none" stroke-dasharray="3,2"/>
<path d="M54.2 372.3h3M54.2 404.1h3M62.0 369.6h3M62.0 395.5h3M69.9 369.1h3M69.9 394.3h3M77.7 381.9h3M77.7 408.5h3M85.5 407.1h3M85.5 437.5h3M93.3 420.8h3M93.3 453.4h3M101.2 391.5h3M101.2 418.1h3M109.0 396.1h3M109.0 423.0h3M116.8 402.6h3M116.8 430.1h3M124.7 364.0h3M124.7 385.3h3M132.5 374.0h3M132.5 396.4h3M140.3 414.1h3M140.3 442.2h3M148.1 395.9h3M148.1 420.6h3M156.0 389.1h3M156.0 412.4h3M163.8 390.6h3M163.8 413.5h3M171.6 397.3h3M171.6 420.6h3M179.4 408.7h3M179.4 433.0h3M187.3 398.6h3M187.3 420.8h3M195.1 394.5h3M195.1 415.6h3M202.9 402.6h3M202.9 423.7h3M210.7 399.0h3M210.7 418.7h3M218.6 412.7h3M218.6 433.1h3M226.4 400.5h3M226.4 418.4h3M234.2 415.2h3M234.2 433.6h3M242.0 426.0h3M242.0 444.6h3M249.9 413.4h3M249.9 428.9h3M257.7 415.5h3M257.7 429.6h3M265.5 432.4h3M265.5 446.2h3M273.4 424.5h3M273.4 436.5h3M281.2 435.0h3M281.2 446.4h3M289.0 438.6h3M289.0 449.0h3M296.8 430.8h3M296.8 439.5h3M304.7 428.8h3M304.7 436.8h3M312.5 429.7h3M312.5 437.3h3M320.3 423.1h3M320.3 429.8h3M328.1 422.0h3M328.1 428.1h3M336.0 416.0h3M336.0 421.6h3M343.8 407.0h3M343.8 411.9h3M351.6 391.4h3M351.6 395.5h3M359.4 364.8h3M359.4 368.0h3" stroke="#16b316" stroke-width="1" fill="none"/>
<polygon points="55.71,389.92 52.91,384.72 58.51,384.72" fill="#16b316"/><polygon points="63.54,384.72 60.74,379.52 66.34,379.52" fill="#16b316"/><polygon points="71.37,383.92 68.57,378.72 74.17,378.72" fill="#16b316"/><polygon points="79.19,397.32 76.39,392.12 81.99,392.12" fill="#16b316"/><polygon points="87.02,424.12 84.22,418.92 89.82,418.92" fill="#16b316"/><polygon points="94.85,438.72 92.05,433.52 97.65,433.52" fill="#16b316"/><polygon points="102.67,406.92 99.87,401.72 105.47,401.72" fill="#16b316"/><polygon points="110.50,411.62 107.70,406.42 113.30,406.42" fill="#16b316"/><polygon points="118.33,418.42 115.53,413.22 121.13,413.22" fill="#16b316"/><polygon points="126.15,377.12 123.35,371.92 128.95,371.92" fill="#16b316"/><polygon points="133.98,387.62 131.18,382.42 136.78,382.42" fill="#16b316"/><polygon points="141.80,430.12 139.00,424.92 144.60,424.92" fill="#16b316"/><polygon points="149.63,410.52 146.83,405.32 152.43,405.32" fill="#16b316"/><polygon points="157.46,403.12 154.66,397.92 160.26,397.92" fill="#16b316"/><polygon points="165.28,404.42 162.48,399.22 168.08,399.22" fill="#16b316"/><polygon points="173.11,411.32 170.31,406.12 175.91,406.12" fill="#16b316"/><polygon points="180.94,423.12 178.14,417.92 183.74,417.92" fill="#16b316"/><polygon points="188.76,412.12 185.96,406.92 191.56,406.92" fill="#16b316"/><polygon points="196.59,407.52 193.79,402.32 199.39,402.32" fill="#16b316"/><polygon points="204.42,415.62 201.62,410.42 207.22,410.42" fill="#16b316"/><polygon points="212.24,411.42 209.44,406.22 215.04,406.22" fill="#16b316"/><polygon points="220.07,425.42 217.27,420.22 222.87,420.22" fill="#16b316"/><polygon points="227.90,412.12 225.10,406.92 230.70,406.92" fill="#16b316"/><polygon points="235.72,427.02 232.92,421.82 238.52,421.82" fill="#16b316"/><polygon points="243.55,437.92 240.75,432.72 246.35,432.72" fill="#16b316"/><polygon points="251.38,423.92 248.58,418.72 254.18,418.72" fill="#16b316"/><polygon points="259.20,425.42 256.40,420.22 262.00,420.22" fill="#16b316"/><polygon points="267.03,442.12 264.23,436.92 269.83,436.92" fill="#16b316"/><polygon points="274.86,433.42 272.06,428.22 277.66,428.22" fill="#16b316"/><polygon points="282.68,443.62 279.88,438.42 285.48,438.42" fill="#16b316"/><polygon points="290.51,446.72 287.71,441.52 293.31,441.52" fill="#16b316"/><polygon points="298.33,438.12 295.53,432.92 301.13,432.92" fill="#16b316"/><polygon points="306.16,435.82 303.36,430.62 308.96,430.62" fill="#16b316"/><polygon points="313.99,436.52 311.19,431.32 316.79,431.32" fill="#16b316"/><polygon points="321.81,429.52 319.01,424.32 324.61,424.32" fill="#16b316"/><polygon points="329.64,428.12 326.84,422.92 332.44,422.92" fill="#16b316"/><polygon points="337.47,421.87 334.67,416.67 340.27,416.67" fill="#16b316"/><polygon points="345.29,412.52 342.49,407.32 348.09,407.32" fill="#16b316"/><polygon points="353.12,396.52 350.32,391.32 355.92,391.32" fill="#16b316"/><polygon points="360.95,369.52 358.15,364.32 363.75,364.32" fill="#16b316"/>
</g>
<g clip-path="url(#cr)">
<polyline points="55.7,374.8 63.5,407.1 71.4,404.5 79.2,416.3 87.0,422.2 94.8,424.3 102.7,386.9 110.5,397.5 118.3,406.2 126.2,383.3 134.0,370.5 141.8,397.5 149.6,384.1 157.5,408.5 165.3,393.4 173.1,386.1 180.9,423.0 188.8,388.4 196.6,405.3 204.4,397.5 212.2,377.8 220.1,416.7 227.9,391.3 235.7,409.8 243.5,412.8 251.4,393.1 259.2,405.3 267.0,398.0 274.9,401.1 282.7,402.7 290.5,405.8 298.3,398.8 306.2,401.6 314.0,396.9 321.8,397.0 329.6,397.7 337.5,397.7 345.3,402.3 353.1,398.4 360.9,397.5" fill="none" stroke="#474747" stroke-width="1"/>
<path d="M55.7 361.2V372.2M55.7 377.4V390.9M63.5 393.4V404.5M63.5 409.7V423.4M71.4 391.2V401.9M71.4 407.1V420.1M79.2 402.4V413.7M79.2 418.9V432.7M87.0 408.2V419.6M87.0 424.8V438.9M94.8 410.4V421.7M94.8 426.9V440.9M102.7 375.6V384.3M102.7 389.5V399.8M110.5 385.8V394.9M110.5 400.1V411.0M118.3 394.1V403.6M118.3 408.8V420.2M126.2 372.8V380.7M126.2 385.9V395.3M134.0 360.8V367.9M134.0 373.1V381.4M141.8 386.4V394.9M141.8 400.1V410.1M149.6 374.0V381.5M149.6 386.7V395.6M157.5 397.1V405.9M157.5 411.1V421.6M165.3 383.1V390.8M165.3 396.0V405.0M173.1 376.4V383.5M173.1 388.7V397.0M180.9 411.5V420.4M180.9 425.6V436.2M188.8 379.1V385.8M188.8 391.0V398.8M196.6 395.3V402.7M196.6 407.9V416.6M204.4 388.3V394.9M204.4 400.1V407.7M212.2 369.9V375.2M212.2 380.4V386.5M220.1 407.4V414.1M220.1 419.3V427.1M227.9 383.6V388.7M227.9 393.9V399.8M235.7 401.7V407.2M235.7 412.4V418.7M243.5 405.0V410.2M243.5 415.4V421.4M251.4 386.7V390.5M251.4 395.7V400.0M259.2 399.1V402.7M259.2 407.9V411.9M267.0 392.7V395.4M267.0 400.6V403.6M274.9 396.2V398.5M274.9 403.7V406.3M282.7 398.2V400.1M282.7 405.3V407.4M290.5 401.7V403.2M290.5 408.4V410.1M298.3 395.3V396.1M298.3 401.4V402.4M306.2 398.3V399.0M306.2 404.2V405.0M314.0 393.9V394.3M314.0 399.5V400.0M321.8 394.2V394.4M321.8 399.6V399.9M329.6 395.1V395.1M329.6 400.3V400.4" stroke="#474747" stroke-width="1" fill="none"/>
<path d="M54.2 361.2h3M54.2 390.9h3M62.0 393.4h3M62.0 423.4h3M69.9 391.2h3M69.9 420.1h3M77.7 402.4h3M77.7 432.7h3M85.5 408.2h3M85.5 438.9h3M93.3 410.4h3M93.3 440.9h3M101.2 375.6h3M101.2 399.8h3M109.0 385.8h3M109.0 411.0h3M116.8 394.1h3M116.8 420.2h3M124.7 372.8h3M124.7 395.3h3M132.5 360.8h3M132.5 381.4h3M140.3 386.4h3M140.3 410.1h3M148.1 374.0h3M148.1 395.6h3M156.0 397.1h3M156.0 421.6h3M163.8 383.1h3M163.8 405.0h3M171.6 376.4h3M171.6 397.0h3M179.4 411.5h3M179.4 436.2h3M187.3 379.1h3M187.3 398.8h3M195.1 395.3h3M195.1 416.6h3M202.9 388.3h3M202.9 407.7h3M210.7 369.9h3M210.7 386.5h3M218.6 407.4h3M218.6 427.1h3M226.4 383.6h3M226.4 399.8h3M234.2 401.7h3M234.2 418.7h3M242.0 405.0h3M242.0 421.4h3M249.9 386.7h3M249.9 400.0h3M257.7 399.1h3M257.7 411.9h3M265.5 392.7h3M265.5 403.6h3M273.4 396.2h3M273.4 406.3h3M281.2 398.2h3M281.2 407.4h3M289.0 401.7h3M289.0 410.1h3M296.8 395.3h3M296.8 402.4h3M304.7 398.3h3M304.7 405.0h3M312.5 393.9h3M312.5 400.0h3M320.3 394.2h3M320.3 399.9h3M328.1 395.1h3M328.1 400.4h3M336.0 395.3h3M336.0 400.2h3M343.8 400.0h3M343.8 404.7h3M351.6 396.3h3M351.6 400.5h3M359.4 395.6h3M359.4 399.5h3" stroke="#474747" stroke-width="1" fill="none"/>
<circle cx="55.71" cy="374.80" r="2.40" fill="none" stroke="#474747" stroke-width="1"/><circle cx="63.54" cy="407.10" r="2.40" fill="none" stroke="#474747" stroke-width="1"/><circle cx="71.37" cy="404.50" r="2.40" fill="none" stroke="#474747" stroke-width="1"/><circle cx="79.19" cy="416.30" r="2.40" fill="none" stroke="#474747" stroke-width="1"/><circle cx="87.02" cy="422.20" r="2.40" fill="none" stroke="#474747" stroke-width="1"/><circle cx="94.85" cy="424.30" r="2.40" fill="none" stroke="#474747" stroke-width="1"/><circle cx="102.67" cy="386.90" r="2.40" fill="none" stroke="#474747" stroke-width="1"/><circle cx="110.50" cy="397.50" r="2.40" fill="none" stroke="#474747" stroke-width="1"/><circle cx="118.33" cy="406.20" r="2.40" fill="none" stroke="#474747" stroke-width="1"/><circle cx="126.15" cy="383.30" r="2.40" fill="none" stroke="#474747" stroke-width="1"/><circle cx="133.98" cy="370.50" r="2.40" fill="none" stroke="#474747" stroke-width="1"/><circle cx="141.80" cy="397.50" r="2.40" fill="none" stroke="#474747" stroke-width="1"/><circle cx="149.63" cy="384.10" r="2.40" fill="none" stroke="#474747" stroke-width="1"/><circle cx="157.46" cy="408.50" r="2.40" fill="none" stroke="#474747" stroke-width="1"/><circle cx="165.28" cy="393.40" r="2.40" fill="none" stroke="#474747" stroke-width="1"/><circle cx="173.11" cy="386.10" r="2.40" fill="none" stroke="#474747" stroke-width="1"/><circle cx="180.94" cy="423.00" r="2.40" fill="none" stroke="#474747" stroke-width="1"/><circle cx="188.76" cy="388.40" r="2.40" fill="none" stroke="#474747" stroke-width="1"/><circle cx="196.59" cy="405.30" r="2.40" fill="none" stroke="#474747" stroke-width="1"/><circle cx="204.42" cy="397.50" r="2.40" fill="none" stroke="#474747" stroke-width="1"/><circle cx="212.24" cy="377.80" r="2.40" fill="none" stroke="#474747" stroke-width="1"/><circle cx="220.07" cy="416.70" r="2.40" fill="none" stroke="#474747" stroke-width="1"/><circle cx="227.90" cy="391.30" r="2.40" fill="none" stroke="#474747" stroke-width="1"/><circle cx="235.72" cy="409.80" r="2.40" fill="none" stroke="#474747" stroke-width="1"/><circle cx="243.55" cy="412.80" r="2.40" fill="none" stroke="#474747" stroke-width="1"/><circle cx="251.38" cy="393.10" r="2.40" fill="none" stroke="#474747" stroke-width="1"/><circle cx="259.20" cy="405.30" r="2.40" fill="none" stroke="#474747" stroke-width="1"/><circle cx="267.03" cy="398.00" r="2.40" fill="none" stroke="#474747" stroke-width="1"/><circle cx="274.86" cy="401.10" r="2.40" fill="none" stroke="#474747" stroke-width="1"/><circle cx="282.68" cy="402.70" r="2.40" fill="none" stroke="#474747" stroke-width="1"/><circle cx="290.51" cy="405.80" r="2.40" fill="none" stroke="#474747" stroke-width="1"/><circle cx="298.33" cy="398.75" r="2.40" fill="none" stroke="#474747" stroke-width="1"/><circle cx="306.16" cy="401.60" r="2.40" fill="none" stroke="#474747" stroke-width="1"/><circle cx="313.99" cy="396.90" r="2.40" fill="none" stroke="#474747" stroke-width="1"/><circle cx="321.81" cy="397.00" r="2.40" fill="none" stroke="#474747" stroke-width="1"/><circle cx="329.64" cy="397.70" r="2.40" fill="none" stroke="#474747" stroke-width="1"/><circle cx="337.47" cy="397.70" r="2.40" fill="none" stroke="#474747" stroke-width="1"/><circle cx="345.29" cy="402.30" r="2.40" fill="none" stroke="#474747" stroke-width="1"/><circle cx="353.12" cy="398.40" r="2.40" fill="none" stroke="#474747" stroke-width="1"/><circle cx="360.95" cy="397.50" r="2.40" fill="none" stroke="#474747" stroke-width="1"/>
</g>
<g clip-path="url(#cm)">
<polyline points="55.7,270.0 63.5,261.5 71.4,259.0 79.2,258.8 87.0,256.0 94.8,250.5 102.7,258.0 110.5,253.5 118.3,258.0 126.2,258.0 134.0,259.0 141.8,250.0 149.6,249.0 157.5,246.0 165.3,247.5 173.1,244.5 180.9,240.5 188.8,239.0 196.6,237.0 204.4,236.3 212.2,232.5 220.1,225.5 227.9,223.5 235.7,216.5 243.5,216.5 251.4,214.7 259.2,210.3 267.0,204.0 274.9,200.3 282.7,193.1 290.5,188.2 298.3,184.5 306.2,177.5 314.0,172.5 321.8,165.9 329.6,159.7 337.5,149.3 345.3,141.5 353.1,131.2 360.9,116.7" fill="none" stroke="#b8103a" stroke-width="1"/>
<path d="M55.7 265.7V267.4M55.7 272.6V275.1M63.5 257.8V258.9M63.5 264.1V265.8M71.4 255.4V256.4M71.4 261.6V263.2M79.2 255.3V256.2M79.2 261.4V262.9M87.0 252.5V253.4M87.0 258.6V260.0M94.8 247.1V247.9M94.8 253.1V254.4M102.7 254.6V255.4M102.7 260.6V261.8M110.5 250.2V250.9M110.5 256.1V257.3M118.3 254.7V255.4M118.3 260.6V261.7M126.2 254.8V255.4M126.2 260.6V261.6M134.0 255.8V256.4M134.0 261.6V262.6M141.8 246.9V247.4M141.8 252.6V253.5M149.6 245.9V246.4M149.6 251.6V252.5M157.5 243.0V243.4M157.5 248.6V249.4M165.3 244.5V244.9M165.3 250.1V250.8M173.1 241.6V241.9M173.1 247.1V247.7M180.9 237.7V237.9M180.9 243.1V243.7M188.8 236.2V236.4M188.8 241.6V242.1M196.6 234.3V234.4M196.6 239.6V240.0M204.4 238.9V239.2M212.2 235.1V235.2" stroke="#b8103a" stroke-width="1" fill="none"/>
<path d="M54.2 265.7h3M54.2 275.1h3M62.0 257.8h3M62.0 265.8h3M69.9 255.4h3M69.9 263.2h3M77.7 255.3h3M77.7 262.9h3M85.5 252.5h3M85.5 260.0h3M93.3 247.1h3M93.3 254.4h3M101.2 254.6h3M101.2 261.8h3M109.0 250.2h3M109.0 257.3h3M116.8 254.7h3M116.8 261.7h3M124.7 254.8h3M124.7 261.6h3M132.5 255.8h3M132.5 262.6h3M140.3 246.9h3M140.3 253.5h3M148.1 245.9h3M148.1 252.5h3M156.0 243.0h3M156.0 249.4h3M163.8 244.5h3M163.8 250.8h3M171.6 241.6h3M171.6 247.7h3M179.4 237.7h3M179.4 243.7h3M187.3 236.2h3M187.3 242.1h3M195.1 234.3h3M195.1 240.0h3M202.9 233.7h3M202.9 239.2h3M210.7 230.0h3M210.7 235.2h3M218.6 223.1h3M218.6 228.1h3M226.4 221.2h3M226.4 226.0h3M234.2 214.4h3M234.2 218.8h3M242.0 214.5h3M242.0 218.7h3M249.9 212.9h3M249.9 216.7h3M257.7 208.6h3M257.7 212.1h3M265.5 202.5h3M265.5 205.6h3M273.4 198.9h3M273.4 201.7h3M281.2 191.9h3M281.2 194.4h3M289.0 187.1h3M289.0 189.3h3M296.8 183.5h3M296.8 185.5h3M304.7 176.6h3M304.7 178.4h3M312.5 171.6h3M312.5 173.4h3M320.3 165.1h3M320.3 166.7h3M328.1 159.0h3M328.1 160.5h3M336.0 148.6h3M336.0 150.0h3M343.8 140.9h3M343.8 142.1h3M351.6 130.7h3M351.6 131.8h3M359.4 116.2h3M359.4 117.2h3" stroke="#b8103a" stroke-width="1" fill="none"/>
<polygon points="55.71,266.40 52.51,272.40 58.91,272.40" fill="#fff" fill-opacity="0" stroke="#b8103a" stroke-width="1"/><polygon points="63.54,257.90 60.34,263.90 66.74,263.90" fill="#fff" fill-opacity="0" stroke="#b8103a" stroke-width="1"/><polygon points="71.37,255.40 68.17,261.40 74.57,261.40" fill="#fff" fill-opacity="0" stroke="#b8103a" stroke-width="1"/><polygon points="79.19,255.20 75.99,261.20 82.39,261.20" fill="#fff" fill-opacity="0" stroke="#b8103a" stroke-width="1"/><polygon points="87.02,252.40 83.82,258.40 90.22,258.40" fill="#fff" fill-opacity="0" stroke="#b8103a" stroke-width="1"/><polygon points="94.85,246.90 91.65,252.90 98.05,252.90" fill="#fff" fill-opacity="0" stroke="#b8103a" stroke-width="1"/><polygon points="102.67,254.40 99.47,260.40 105.87,260.40" fill="#fff" fill-opacity="0" stroke="#b8103a" stroke-width="1"/><polygon points="110.50,249.90 107.30,255.90 113.70,255.90" fill="#fff" fill-opacity="0" stroke="#b8103a" stroke-width="1"/><polygon points="118.33,254.40 115.13,260.40 121.53,260.40" fill="#fff" fill-opacity="0" stroke="#b8103a" stroke-width="1"/><polygon points="126.15,254.40 122.95,260.40 129.35,260.40" fill="#fff" fill-opacity="0" stroke="#b8103a" stroke-width="1"/><polygon points="133.98,255.40 130.78,261.40 137.18,261.40" fill="#fff" fill-opacity="0" stroke="#b8103a" stroke-width="1"/><polygon points="141.80,246.40 138.60,252.40 145.00,252.40" fill="#fff" fill-opacity="0" stroke="#b8103a" stroke-width="1"/><polygon points="149.63,245.40 146.43,251.40 152.83,251.40" fill="#fff" fill-opacity="0" stroke="#b8103a" stroke-width="1"/><polygon points="157.46,242.40 154.26,248.40 160.66,248.40" fill="#fff" fill-opacity="0" stroke="#b8103a" stroke-width="1"/><polygon points="165.28,243.90 162.08,249.90 168.48,249.90" fill="#fff" fill-opacity="0" stroke="#b8103a" stroke-width="1"/><polygon points="173.11,240.90 169.91,246.90 176.31,246.90" fill="#fff" fill-opacity="0" stroke="#b8103a" stroke-width="1"/><polygon points="180.94,236.90 177.74,242.90 184.14,242.90" fill="#fff" fill-opacity="0" stroke="#b8103a" stroke-width="1"/><polygon points="188.76,235.40 185.56,241.40 191.96,241.40" fill="#fff" fill-opacity="0" stroke="#b8103a" stroke-width="1"/><polygon points="196.59,233.40 193.39,239.40 199.79,239.40" fill="#fff" fill-opacity="0" stroke="#b8103a" stroke-width="1"/><polygon points="204.42,232.70 201.22,238.70 207.62,238.70" fill="#fff" fill-opacity="0" stroke="#b8103a" stroke-width="1"/><polygon points="212.24,228.90 209.04,234.90 215.44,234.90" fill="#fff" fill-opacity="0" stroke="#b8103a" stroke-width="1"/><polygon points="220.07,221.90 216.87,227.90 223.27,227.90" fill="#fff" fill-opacity="0" stroke="#b8103a" stroke-width="1"/><polygon points="227.90,219.90 224.70,225.90 231.10,225.90" fill="#fff" fill-opacity="0" stroke="#b8103a" stroke-width="1"/><polygon points="235.72,212.90 232.52,218.90 238.92,218.90" fill="#fff" fill-opacity="0" stroke="#b8103a" stroke-width="1"/><polygon points="243.55,212.90 240.35,218.90 246.75,218.90" fill="#fff" fill-opacity="0" stroke="#b8103a" stroke-width="1"/><polygon points="251.38,211.10 248.18,217.10 254.58,217.10" fill="#fff" fill-opacity="0" stroke="#b8103a" stroke-width="1"/><polygon points="259.20,206.70 256.00,212.70 262.40,212.70" fill="#fff" fill-opacity="0" stroke="#b8103a" stroke-width="1"/><polygon points="267.03,200.40 263.83,206.40 270.23,206.40" fill="#fff" fill-opacity="0" stroke="#b8103a" stroke-width="1"/><polygon points="274.86,196.70 271.66,202.70 278.06,202.70" fill="#fff" fill-opacity="0" stroke="#b8103a" stroke-width="1"/><polygon points="282.68,189.50 279.48,195.50 285.88,195.50" fill="#fff" fill-opacity="0" stroke="#b8103a" stroke-width="1"/><polygon points="290.51,184.60 287.31,190.60 293.71,190.60" fill="#fff" fill-opacity="0" stroke="#b8103a" stroke-width="1"/><polygon points="298.33,180.90 295.13,186.90 301.53,186.90" fill="#fff" fill-opacity="0" stroke="#b8103a" stroke-width="1"/><polygon points="306.16,173.90 302.96,179.90 309.36,179.90" fill="#fff" fill-opacity="0" stroke="#b8103a" stroke-width="1"/><polygon points="313.99,168.90 310.79,174.90 317.19,174.90" fill="#fff" fill-opacity="0" stroke="#b8103a" stroke-width="1"/><polygon points="321.81,162.30 318.61,168.30 325.01,168.30" fill="#fff" fill-opacity="0" stroke="#b8103a" stroke-width="1"/><polygon points="329.64,156.10 326.44,162.10 332.84,162.10" fill="#fff" fill-opacity="0" stroke="#b8103a" stroke-width="1"/><polygon points="337.47,145.70 334.27,151.70 340.67,151.70" fill="#fff" fill-opacity="0" stroke="#b8103a" stroke-width="1"/><polygon points="345.29,137.90 342.09,143.90 348.49,143.90" fill="#fff" fill-opacity="0" stroke="#b8103a" stroke-width="1"/><polygon points="353.12,127.65 349.92,133.65 356.32,133.65" fill="#fff" fill-opacity="0" stroke="#b8103a" stroke-width="1"/><polygon points="360.95,113.10 357.75,119.10 364.15,119.10" fill="#fff" fill-opacity="0" stroke="#b8103a" stroke-width="1"/>
</g>
<g clip-path="url(#cm)">
<polyline points="55.7,260.3 63.5,251.2 71.4,252.3 79.2,254.0 87.0,251.7 94.8,253.3 102.7,246.8 110.5,251.6 118.3,246.2 126.2,250.6 134.0,250.5 141.8,249.4 149.6,240.6 157.5,240.8 165.3,237.5 173.1,243.3 180.9,238.1 188.8,232.3 196.6,227.8 204.4,228.4 212.2,220.8 220.1,225.4 227.9,219.6 235.7,219.0 243.5,213.6 251.4,205.5 259.2,206.2 267.0,201.4 274.9,197.6 282.7,197.4 290.5,190.7 298.3,184.8 306.2,180.5 314.0,175.6 321.8,168.5 329.6,162.1 337.5,153.5 345.3,145.0 353.1,133.4 360.9,116.3" fill="none" stroke="#ff3c6e" stroke-width="1" stroke-dasharray="2.5,2"/>
<path d="M55.7 256.7V257.7M55.7 262.9V264.6M63.5 248.1V248.6M63.5 253.8V254.7M71.4 249.1V249.7M71.4 254.9V256.0M79.2 250.7V251.4M79.2 256.6V257.7M87.0 248.5V249.1M87.0 254.3V255.4M94.8 249.7V250.7M94.8 255.9V257.5M102.7 244.0V244.2M102.7 249.4V249.9M110.5 248.4V249.0M110.5 254.2V255.2M118.3 243.6V243.6M118.3 248.8V249.2M126.2 247.8V248.0M126.2 253.2V253.7M134.0 247.8V247.9M134.0 253.1V253.5M141.8 246.3V246.8M141.8 252.0V252.9M149.6 238.0V238.0M149.6 243.2V243.6M157.5 238.0V238.2M157.5 243.4V243.9M165.3 240.1V240.3M173.1 240.4V240.7M173.1 245.9V246.5M180.9 235.3V235.5M180.9 240.7V241.1M188.8 234.9V235.0" stroke="#ff3c6e" stroke-width="1" fill="none" stroke-dasharray="2.5,2"/>
<path d="M54.2 256.7h3M54.2 264.6h3M62.0 248.1h3M62.0 254.7h3M69.9 249.1h3M69.9 256.0h3M77.7 250.7h3M77.7 257.7h3M85.5 248.5h3M85.5 255.4h3M93.3 249.7h3M93.3 257.5h3M101.2 244.0h3M101.2 249.9h3M109.0 248.4h3M109.0 255.2h3M116.8 243.6h3M116.8 249.2h3M124.7 247.8h3M124.7 253.7h3M132.5 247.8h3M132.5 253.5h3M140.3 246.3h3M140.3 252.9h3M148.1 238.0h3M148.1 243.6h3M156.0 238.0h3M156.0 243.9h3M163.8 235.0h3M163.8 240.3h3M171.6 240.4h3M171.6 246.5h3M179.4 235.3h3M179.4 241.1h3M187.3 229.8h3M187.3 235.0h3M195.1 225.5h3M195.1 230.4h3M202.9 226.2h3M202.9 230.9h3M210.7 218.8h3M210.7 223.0h3M218.6 223.0h3M218.6 228.0h3M226.4 217.5h3M226.4 221.9h3M234.2 216.8h3M234.2 221.4h3M242.0 211.6h3M242.0 215.6h3M249.9 204.0h3M249.9 207.2h3M257.7 204.6h3M257.7 207.8h3M265.5 200.0h3M265.5 202.9h3M273.4 196.3h3M273.4 199.0h3M281.2 196.1h3M281.2 198.8h3M289.0 189.5h3M289.0 191.9h3M296.8 183.8h3M296.8 185.8h3M304.7 179.5h3M304.7 181.5h3M312.5 174.7h3M312.5 176.5h3M320.3 167.6h3M320.3 169.3h3M328.1 161.3h3M328.1 162.9h3M336.0 152.8h3M336.0 154.2h3M343.8 144.3h3M343.8 145.7h3M351.6 132.8h3M351.6 134.0h3M359.4 115.8h3M359.4 116.9h3" stroke="#ff3c6e" stroke-width="1" fill="none"/>
<circle cx="55.71" cy="260.34" r="2.40" fill="none" stroke="#ff3c6e" stroke-width="1"/><circle cx="63.54" cy="251.25" r="2.40" fill="none" stroke="#ff3c6e" stroke-width="1"/><circle cx="71.37" cy="252.33" r="2.40" fill="none" stroke="#ff3c6e" stroke-width="1"/><circle cx="79.19" cy="253.97" r="2.40" fill="none" stroke="#ff3c6e" stroke-width="1"/><circle cx="87.02" cy="251.70" r="2.40" fill="none" stroke="#ff3c6e" stroke-width="1"/><circle cx="94.85" cy="253.34" r="2.40" fill="none" stroke="#ff3c6e" stroke-width="1"/><circle cx="102.67" cy="246.81" r="2.40" fill="none" stroke="#ff3c6e" stroke-width="1"/><circle cx="110.50" cy="251.57" r="2.40" fill="none" stroke="#ff3c6e" stroke-width="1"/><circle cx="118.33" cy="246.22" r="2.40" fill="none" stroke="#ff3c6e" stroke-width="1"/><circle cx="126.15" cy="250.58" r="2.40" fill="none" stroke="#ff3c6e" stroke-width="1"/><circle cx="133.98" cy="250.49" r="2.40" fill="none" stroke="#ff3c6e" stroke-width="1"/><circle cx="141.80" cy="249.44" r="2.40" fill="none" stroke="#ff3c6e" stroke-width="1"/><circle cx="149.63" cy="240.62" r="2.40" fill="none" stroke="#ff3c6e" stroke-width="1"/><circle cx="157.46" cy="240.76" r="2.40" fill="none" stroke="#ff3c6e" stroke-width="1"/><circle cx="165.28" cy="237.53" r="2.40" fill="none" stroke="#ff3c6e" stroke-width="1"/><circle cx="173.11" cy="243.28" r="2.40" fill="none" stroke="#ff3c6e" stroke-width="1"/><circle cx="180.94" cy="238.07" r="2.40" fill="none" stroke="#ff3c6e" stroke-width="1"/><circle cx="188.76" cy="232.30" r="2.40" fill="none" stroke="#ff3c6e" stroke-width="1"/><circle cx="196.59" cy="227.84" r="2.40" fill="none" stroke="#ff3c6e" stroke-width="1"/><circle cx="204.42" cy="228.42" r="2.40" fill="none" stroke="#ff3c6e" stroke-width="1"/><circle cx="212.24" cy="220.78" r="2.40" fill="none" stroke="#ff3c6e" stroke-width="1"/><circle cx="220.07" cy="225.41" r="2.40" fill="none" stroke="#ff3c6e" stroke-width="1"/><circle cx="227.90" cy="219.60" r="2.40" fill="none" stroke="#ff3c6e" stroke-width="1"/><circle cx="235.72" cy="218.99" r="2.40" fill="none" stroke="#ff3c6e" stroke-width="1"/><circle cx="243.55" cy="213.57" r="2.40" fill="none" stroke="#ff3c6e" stroke-width="1"/><circle cx="251.38" cy="205.54" r="2.40" fill="none" stroke="#ff3c6e" stroke-width="1"/><circle cx="259.20" cy="206.16" r="2.40" fill="none" stroke="#ff3c6e" stroke-width="1"/><circle cx="267.03" cy="201.38" r="2.40" fill="none" stroke="#ff3c6e" stroke-width="1"/><circle cx="274.86" cy="197.59" r="2.40" fill="none" stroke="#ff3c6e" stroke-width="1"/><circle cx="282.68" cy="197.40" r="2.40" fill="none" stroke="#ff3c6e" stroke-width="1"/><circle cx="290.51" cy="190.69" r="2.40" fill="none" stroke="#ff3c6e" stroke-width="1"/><circle cx="298.33" cy="184.80" r="2.40" fill="none" stroke="#ff3c6e" stroke-width="1"/><circle cx="306.16" cy="180.46" r="2.40" fill="none" stroke="#ff3c6e" stroke-width="1"/><circle cx="313.99" cy="175.62" r="2.40" fill="none" stroke="#ff3c6e" stroke-width="1"/><circle cx="321.81" cy="168.46" r="2.40" fill="none" stroke="#ff3c6e" stroke-width="1"/><circle cx="329.64" cy="162.10" r="2.40" fill="none" stroke="#ff3c6e" stroke-width="1"/><circle cx="337.47" cy="153.49" r="2.40" fill="none" stroke="#ff3c6e" stroke-width="1"/><circle cx="345.29" cy="144.99" r="2.40" fill="none" stroke="#ff3c6e" stroke-width="1"/><circle cx="353.12" cy="133.40" r="2.40" fill="none" stroke="#ff3c6e" stroke-width="1"/><circle cx="360.95" cy="116.33" r="2.40" fill="none" stroke="#ff3c6e" stroke-width="1"/>
</g>
<g clip-path="url(#cm)">
<polyline points="55.7,265.6 63.5,273.2 71.4,261.1 79.2,257.7 87.0,265.7 94.8,263.0 102.7,263.4 110.5,262.8 118.3,263.4 126.2,258.7 134.0,257.5 141.8,259.8 149.6,257.6 157.5,255.1 165.3,252.9 173.1,253.0 180.9,248.7 188.8,245.9 196.6,240.8 204.4,244.4 212.2,243.3 220.1,245.0 227.9,237.0 235.7,232.2 243.5,228.5 251.4,223.8 259.2,219.6 267.0,217.3 274.9,211.9 282.7,206.9 290.5,202.7 298.3,196.1 306.2,188.8 314.0,184.1 321.8,175.8 329.6,168.5 337.5,156.2 345.3,145.3 353.1,130.4 360.9,107.1" fill="none" stroke="#22cc8e" stroke-width="1" stroke-dasharray="2.5,2"/>
<path d="M55.7 261.6V265.6M55.7 265.6V270.3M63.5 268.7V273.2M63.5 273.2V278.6M71.4 257.3V261.1M71.4 261.1V265.4M79.2 254.3V257.7M79.2 257.7V261.7M87.0 261.6V265.7M87.0 265.7V270.5M94.8 258.8V263.0M94.8 263.0V268.0M102.7 259.7V263.4M102.7 263.4V267.6M110.5 259.0V262.8M110.5 262.8V267.4M118.3 259.8V263.4M118.3 263.4V267.5M126.2 255.4V258.7M126.2 258.7V262.4M134.0 254.4V257.5M134.0 257.5V261.0M141.8 256.1V259.8M141.8 259.8V264.1M149.6 254.1V257.6M149.6 257.6V261.7M157.5 251.5V255.1M157.5 255.1V259.2M165.3 249.6V252.9M165.3 252.9V256.6M173.1 249.6V253.0M173.1 253.0V256.8M180.9 245.4V248.7M180.9 248.7V252.4M188.8 242.8V245.9M188.8 245.9V249.4M196.6 237.9V240.8M196.6 240.8V244.0M204.4 241.5V244.4M204.4 244.4V247.8M212.2 240.3V243.3M212.2 243.3V246.7M220.1 241.7V245.0M220.1 245.0V248.7M227.9 234.1V237.0M227.9 237.0V240.2M235.7 229.4V232.2M235.7 232.2V235.3M243.5 226.0V228.5M243.5 228.5V231.3M251.4 221.6V223.8M251.4 223.8V226.2M259.2 217.7V219.6M259.2 219.6V221.8M267.0 215.4V217.3M267.0 217.3V219.3M274.9 210.2V211.9M274.9 211.9V213.7M282.7 205.3V206.9M282.7 206.9V208.5M290.5 201.3V202.7M290.5 202.7V204.2M298.3 194.9V196.1M298.3 196.1V197.3M306.2 187.7V188.8M306.2 188.8V189.9M314.0 183.0V184.1M314.0 184.1V185.2M321.8 174.8V175.8M321.8 175.8V176.8M329.6 167.6V168.5M329.6 168.5V169.4M337.5 155.4V156.2M337.5 156.2V157.0M345.3 144.6V145.3M345.3 145.3V146.0M353.1 129.8V130.4M353.1 130.4V131.0M360.9 106.6V107.1M360.9 107.1V107.6" stroke="#22cc8e" stroke-width="1" fill="none" stroke-dasharray="2.5,2"/>
<path d="M54.2 261.6h3M54.2 270.3h3M62.0 268.7h3M62.0 278.6h3M69.9 257.3h3M69.9 265.4h3M77.7 254.3h3M77.7 261.7h3M85.5 261.6h3M85.5 270.5h3M93.3 258.8h3M93.3 268.0h3M101.2 259.7h3M101.2 267.6h3M109.0 259.0h3M109.0 267.4h3M116.8 259.8h3M116.8 267.5h3M124.7 255.4h3M124.7 262.4h3M132.5 254.4h3M132.5 261.0h3M140.3 256.1h3M140.3 264.1h3M148.1 254.1h3M148.1 261.7h3M156.0 251.5h3M156.0 259.2h3M163.8 249.6h3M163.8 256.6h3M171.6 249.6h3M171.6 256.8h3M179.4 245.4h3M179.4 252.4h3M187.3 242.8h3M187.3 249.4h3M195.1 237.9h3M195.1 244.0h3M202.9 241.5h3M202.9 247.8h3M210.7 240.3h3M210.7 246.7h3M218.6 241.7h3M218.6 248.7h3M226.4 234.1h3M226.4 240.2h3M234.2 229.4h3M234.2 235.3h3M242.0 226.0h3M242.0 231.3h3M249.9 221.6h3M249.9 226.2h3M257.7 217.7h3M257.7 221.8h3M265.5 215.4h3M265.5 219.3h3M273.4 210.2h3M273.4 213.7h3M281.2 205.3h3M281.2 208.5h3M289.0 201.3h3M289.0 204.2h3M296.8 194.9h3M296.8 197.3h3M304.7 187.7h3M304.7 189.9h3M312.5 183.0h3M312.5 185.2h3M320.3 174.8h3M320.3 176.8h3M328.1 167.6h3M328.1 169.4h3M336.0 155.4h3M336.0 157.0h3M343.8 144.6h3M343.8 146.0h3M351.6 129.8h3M351.6 131.0h3M359.4 106.6h3M359.4 107.6h3" stroke="#22cc8e" stroke-width="1" fill="none"/>
<polygon points="55.71,262.77 57.95,265.57 55.71,268.37 53.47,265.57" fill="#22cc8e"/><polygon points="63.54,270.39 65.78,273.19 63.54,275.99 61.30,273.19" fill="#22cc8e"/><polygon points="71.37,258.29 73.61,261.09 71.37,263.89 69.13,261.09" fill="#22cc8e"/><polygon points="79.19,254.94 81.43,257.74 79.19,260.54 76.95,257.74" fill="#22cc8e"/><polygon points="87.02,262.92 89.26,265.72 87.02,268.52 84.78,265.72" fill="#22cc8e"/><polygon points="94.85,260.23 97.09,263.03 94.85,265.83 92.61,263.03" fill="#22cc8e"/><polygon points="102.67,260.56 104.91,263.36 102.67,266.16 100.43,263.36" fill="#22cc8e"/><polygon points="110.50,260.05 112.74,262.85 110.50,265.65 108.26,262.85" fill="#22cc8e"/><polygon points="118.33,260.56 120.57,263.36 118.33,266.16 116.09,263.36" fill="#22cc8e"/><polygon points="126.15,255.89 128.39,258.69 126.15,261.49 123.91,258.69" fill="#22cc8e"/><polygon points="133.98,254.74 136.22,257.54 133.98,260.34 131.74,257.54" fill="#22cc8e"/><polygon points="141.80,257.05 144.04,259.85 141.80,262.65 139.56,259.85" fill="#22cc8e"/><polygon points="149.63,254.83 151.87,257.63 149.63,260.43 147.39,257.63" fill="#22cc8e"/><polygon points="157.46,252.30 159.70,255.10 157.46,257.90 155.22,255.10" fill="#22cc8e"/><polygon points="165.28,250.06 167.52,252.86 165.28,255.66 163.04,252.86" fill="#22cc8e"/><polygon points="173.11,250.18 175.35,252.98 173.11,255.78 170.87,252.98" fill="#22cc8e"/><polygon points="180.94,245.86 183.18,248.66 180.94,251.46 178.70,248.66" fill="#22cc8e"/><polygon points="188.76,243.12 191.00,245.92 188.76,248.72 186.52,245.92" fill="#22cc8e"/><polygon points="196.59,238.00 198.83,240.80 196.59,243.60 194.35,240.80" fill="#22cc8e"/><polygon points="204.42,241.63 206.66,244.43 204.42,247.23 202.18,244.43" fill="#22cc8e"/><polygon points="212.24,240.51 214.48,243.31 212.24,246.11 210.00,243.31" fill="#22cc8e"/><polygon points="220.07,242.18 222.31,244.98 220.07,247.78 217.83,244.98" fill="#22cc8e"/><polygon points="227.90,234.19 230.14,236.99 227.90,239.79 225.66,236.99" fill="#22cc8e"/><polygon points="235.72,229.38 237.96,232.18 235.72,234.98 233.48,232.18" fill="#22cc8e"/><polygon points="243.55,225.73 245.79,228.53 243.55,231.33 241.31,228.53" fill="#22cc8e"/><polygon points="251.38,221.00 253.62,223.80 251.38,226.60 249.14,223.80" fill="#22cc8e"/><polygon points="259.20,216.85 261.44,219.65 259.20,222.45 256.96,219.65" fill="#22cc8e"/><polygon points="267.03,214.51 269.27,217.31 267.03,220.11 264.79,217.31" fill="#22cc8e"/><polygon points="274.86,209.09 277.10,211.89 274.86,214.69 272.62,211.89" fill="#22cc8e"/><polygon points="282.68,204.07 284.92,206.87 282.68,209.67 280.44,206.87" fill="#22cc8e"/><polygon points="290.51,199.92 292.75,202.72 290.51,205.52 288.27,202.72" fill="#22cc8e"/><polygon points="298.33,193.29 300.57,196.09 298.33,198.89 296.09,196.09" fill="#22cc8e"/><polygon points="306.16,185.98 308.40,188.78 306.16,191.58 303.92,188.78" fill="#22cc8e"/><polygon points="313.99,181.29 316.23,184.09 313.99,186.89 311.75,184.09" fill="#22cc8e"/><polygon points="321.81,172.98 324.05,175.78 321.81,178.58 319.57,175.78" fill="#22cc8e"/><polygon points="329.64,165.69 331.88,168.49 329.64,171.29 327.40,168.49" fill="#22cc8e"/><polygon points="337.47,153.42 339.71,156.22 337.47,159.02 335.23,156.22" fill="#22cc8e"/><polygon points="345.29,142.50 347.53,145.30 345.29,148.10 343.05,145.30" fill="#22cc8e"/><polygon points="353.12,127.58 355.36,130.38 353.12,133.18 350.88,130.38" fill="#22cc8e"/><polygon points="360.95,104.30 363.19,107.10 360.95,109.90 358.71,107.10" fill="#22cc8e"/>
</g>
<g clip-path="url(#cm)">
<polyline points="55.7,261.6 63.5,264.4 71.4,259.8 79.2,264.5 87.0,260.4 94.8,265.3 102.7,262.1 110.5,265.9 118.3,257.0 126.2,257.9 134.0,263.1 141.8,255.2 149.6,255.4 157.5,260.2 165.3,251.6 173.1,256.8 180.9,248.4 188.8,247.9 196.6,241.3 204.4,248.8 212.2,239.9 220.1,240.6 227.9,231.9 235.7,234.6 243.5,233.9 251.4,227.5 259.2,222.3 267.0,216.4 274.9,211.9 282.7,211.0 290.5,202.2 298.3,201.5 306.2,192.5 314.0,185.1 321.8,177.2 329.6,168.9 337.5,157.5 345.3,146.1 353.1,131.4 360.9,104.8" fill="none" stroke="#ff7a30" stroke-width="1" stroke-dasharray="4,2,1,2"/>
<path d="M55.7 257.9V261.6M55.7 261.6V266.0M63.5 260.5V264.4M63.5 264.4V268.9M71.4 256.2V259.8M71.4 259.8V264.1M79.2 260.6V264.5M79.2 264.5V269.0M87.0 256.7V260.4M87.0 260.4V264.8M94.8 260.9V265.3M94.8 265.3V270.5M102.7 258.4V262.1M102.7 262.1V266.2M110.5 261.8V265.9M110.5 265.9V270.7M118.3 253.8V257.0M118.3 257.0V260.7M126.2 254.7V257.9M126.2 257.9V261.5M134.0 259.7V263.1M134.0 263.1V267.0M141.8 251.8V255.2M141.8 255.2V259.1M149.6 252.0V255.4M149.6 255.4V259.3M157.5 256.3V260.2M157.5 260.2V264.7M165.3 248.4V251.6M165.3 251.6V255.2M173.1 253.2V256.8M173.1 256.8V260.9M180.9 245.1V248.4M180.9 248.4V252.0M188.8 244.7V247.9M188.8 247.9V251.5M196.6 238.4V241.3M196.6 241.3V244.6M204.4 245.6V248.8M204.4 248.8V252.5M212.2 237.1V239.9M212.2 239.9V243.1M220.1 237.5V240.6M220.1 240.6V244.1M227.9 229.3V231.9M227.9 231.9V234.8M235.7 231.7V234.6M235.7 234.6V237.9M243.5 231.1V233.9M243.5 233.9V236.9M251.4 225.2V227.5M251.4 227.5V230.0M259.2 220.3V222.3M259.2 222.3V224.6M267.0 214.5V216.4M267.0 216.4V218.4M274.9 210.2V211.9M274.9 211.9V213.7M282.7 209.3V211.0M282.7 211.0V212.8M290.5 200.8V202.2M290.5 202.2V203.7M298.3 200.1V201.5M298.3 201.5V202.8M306.2 191.3V192.5M306.2 192.5V193.7M314.0 184.0V185.1M314.0 185.1V186.2M321.8 176.3V177.2M321.8 177.2V178.2M329.6 168.0V168.9M329.6 168.9V169.8M337.5 156.7V157.5M337.5 157.5V158.3M345.3 145.4V146.1M345.3 146.1V146.8M353.1 130.8V131.4M353.1 131.4V132.0M360.9 104.4V104.8M360.9 104.8V105.3" stroke="#ff7a30" stroke-width="1" fill="none" stroke-dasharray="4,2,1,2"/>
<path d="M54.2 257.9h3M54.2 266.0h3M62.0 260.5h3M62.0 268.9h3M69.9 256.2h3M69.9 264.1h3M77.7 260.6h3M77.7 269.0h3M85.5 256.7h3M85.5 264.8h3M93.3 260.9h3M93.3 270.5h3M101.2 258.4h3M101.2 266.2h3M109.0 261.8h3M109.0 270.7h3M116.8 253.8h3M116.8 260.7h3M124.7 254.7h3M124.7 261.5h3M132.5 259.7h3M132.5 267.0h3M140.3 251.8h3M140.3 259.1h3M148.1 252.0h3M148.1 259.3h3M156.0 256.3h3M156.0 264.7h3M163.8 248.4h3M163.8 255.2h3M171.6 253.2h3M171.6 260.9h3M179.4 245.1h3M179.4 252.0h3M187.3 244.7h3M187.3 251.5h3M195.1 238.4h3M195.1 244.6h3M202.9 245.6h3M202.9 252.5h3M210.7 237.1h3M210.7 243.1h3M218.6 237.5h3M218.6 244.1h3M226.4 229.3h3M226.4 234.8h3M234.2 231.7h3M234.2 237.9h3M242.0 231.1h3M242.0 236.9h3M249.9 225.2h3M249.9 230.0h3M257.7 220.3h3M257.7 224.6h3M265.5 214.5h3M265.5 218.4h3M273.4 210.2h3M273.4 213.7h3M281.2 209.3h3M281.2 212.8h3M289.0 200.8h3M289.0 203.7h3M296.8 200.1h3M296.8 202.8h3M304.7 191.3h3M304.7 193.7h3M312.5 184.0h3M312.5 186.2h3M320.3 176.3h3M320.3 178.2h3M328.1 168.0h3M328.1 169.8h3M336.0 156.7h3M336.0 158.3h3M343.8 145.4h3M343.8 146.8h3M351.6 130.8h3M351.6 132.0h3M359.4 104.4h3M359.4 105.3h3" stroke="#ff7a30" stroke-width="1" fill="none"/>
<rect x="53.21" y="259.15" width="5.00" height="5.00" fill="#ff7a30"/><rect x="61.04" y="261.87" width="5.00" height="5.00" fill="#ff7a30"/><rect x="68.87" y="257.34" width="5.00" height="5.00" fill="#ff7a30"/><rect x="76.69" y="261.97" width="5.00" height="5.00" fill="#ff7a30"/><rect x="84.52" y="257.93" width="5.00" height="5.00" fill="#ff7a30"/><rect x="92.35" y="262.80" width="5.00" height="5.00" fill="#ff7a30"/><rect x="100.17" y="259.55" width="5.00" height="5.00" fill="#ff7a30"/><rect x="108.00" y="263.37" width="5.00" height="5.00" fill="#ff7a30"/><rect x="115.83" y="254.53" width="5.00" height="5.00" fill="#ff7a30"/><rect x="123.65" y="255.41" width="5.00" height="5.00" fill="#ff7a30"/><rect x="131.48" y="260.61" width="5.00" height="5.00" fill="#ff7a30"/><rect x="139.30" y="252.70" width="5.00" height="5.00" fill="#ff7a30"/><rect x="147.13" y="252.89" width="5.00" height="5.00" fill="#ff7a30"/><rect x="154.96" y="257.71" width="5.00" height="5.00" fill="#ff7a30"/><rect x="162.78" y="249.11" width="5.00" height="5.00" fill="#ff7a30"/><rect x="170.61" y="254.28" width="5.00" height="5.00" fill="#ff7a30"/><rect x="178.44" y="245.85" width="5.00" height="5.00" fill="#ff7a30"/><rect x="186.26" y="245.38" width="5.00" height="5.00" fill="#ff7a30"/><rect x="194.09" y="238.80" width="5.00" height="5.00" fill="#ff7a30"/><rect x="201.92" y="246.33" width="5.00" height="5.00" fill="#ff7a30"/><rect x="209.74" y="237.42" width="5.00" height="5.00" fill="#ff7a30"/><rect x="217.57" y="238.11" width="5.00" height="5.00" fill="#ff7a30"/><rect x="225.40" y="229.38" width="5.00" height="5.00" fill="#ff7a30"/><rect x="233.22" y="232.11" width="5.00" height="5.00" fill="#ff7a30"/><rect x="241.05" y="231.39" width="5.00" height="5.00" fill="#ff7a30"/><rect x="248.88" y="224.96" width="5.00" height="5.00" fill="#ff7a30"/><rect x="256.70" y="219.83" width="5.00" height="5.00" fill="#ff7a30"/><rect x="264.53" y="213.90" width="5.00" height="5.00" fill="#ff7a30"/><rect x="272.36" y="209.39" width="5.00" height="5.00" fill="#ff7a30"/><rect x="280.18" y="208.52" width="5.00" height="5.00" fill="#ff7a30"/><rect x="288.01" y="199.72" width="5.00" height="5.00" fill="#ff7a30"/><rect x="295.83" y="198.95" width="5.00" height="5.00" fill="#ff7a30"/><rect x="303.66" y="189.99" width="5.00" height="5.00" fill="#ff7a30"/><rect x="311.49" y="182.56" width="5.00" height="5.00" fill="#ff7a30"/><rect x="319.31" y="174.74" width="5.00" height="5.00" fill="#ff7a30"/><rect x="327.14" y="166.39" width="5.00" height="5.00" fill="#ff7a30"/><rect x="334.97" y="155.03" width="5.00" height="5.00" fill="#ff7a30"/><rect x="342.79" y="143.58" width="5.00" height="5.00" fill="#ff7a30"/><rect x="350.62" y="128.94" width="5.00" height="5.00" fill="#ff7a30"/><rect x="358.45" y="102.33" width="5.00" height="5.00" fill="#ff7a30"/>
</g>
<g clip-path="url(#cm)">
<polyline points="55.7,266.6 63.5,256.5 71.4,253.7 79.2,257.7 87.0,263.2 94.8,262.3 102.7,259.9 110.5,256.8 118.3,263.5 126.2,250.6 134.0,254.9 141.8,259.1 149.6,252.0 157.5,246.7 165.3,248.6 173.1,247.7 180.9,247.4 188.8,242.5 196.6,239.1 204.4,240.9 212.2,235.8 220.1,233.1 227.9,227.0 235.7,224.6 243.5,228.0 251.4,221.9 259.2,217.9 267.0,216.8 274.9,210.4 282.7,206.4 290.5,202.5 298.3,196.1 306.2,188.4 314.0,183.6 321.8,174.8 329.6,168.2 337.5,155.8 345.3,145.1 353.1,129.9 360.9,106.9" fill="none" stroke="#16b316" stroke-width="1" stroke-dasharray="3,2"/>
<path d="M55.7 262.5V266.6M55.7 266.6V271.4M63.5 253.1V256.5M63.5 256.5V260.3M71.4 250.4V253.7M71.4 253.7V257.5M79.2 254.2V257.7M79.2 257.7V261.7M87.0 259.3V263.2M87.0 263.2V267.8M94.8 258.1V262.3M94.8 262.3V267.2M102.7 256.4V259.9M102.7 259.9V263.9M110.5 253.3V256.8M110.5 256.8V260.9M118.3 259.9V263.5M118.3 263.5V267.6M126.2 247.8V250.6M126.2 250.6V253.7M134.0 251.9V254.9M134.0 254.9V258.2M141.8 255.4V259.1M141.8 259.1V263.3M149.6 248.7V252.0M149.6 252.0V255.7M157.5 243.6V246.7M157.5 246.7V250.1M165.3 245.6V248.6M165.3 248.6V252.0M173.1 244.7V247.7M173.1 247.7V251.2M180.9 244.2V247.4M180.9 247.4V251.0M188.8 239.5V242.5M188.8 242.5V245.8M196.6 236.3V239.1M196.6 239.1V242.2M204.4 238.1V240.9M204.4 240.9V244.0M212.2 233.1V235.8M212.2 235.8V238.7M220.1 230.4V233.1M220.1 233.1V236.1M227.9 224.6V227.0M227.9 227.0V229.6M235.7 222.2V224.6M235.7 224.6V227.3M243.5 225.6V228.0M243.5 228.0V230.8M251.4 219.8V221.9M251.4 221.9V224.1M259.2 216.0V217.9M259.2 217.9V220.0M267.0 215.0V216.8M267.0 216.8V218.8M274.9 208.8V210.4M274.9 210.4V212.2M282.7 204.8V206.4M282.7 206.4V208.1M290.5 201.1V202.5M290.5 202.5V204.0M298.3 194.9V196.1M298.3 196.1V197.3M306.2 187.3V188.4M306.2 188.4V189.5M314.0 182.6V183.6M314.0 183.6V184.7M321.8 173.9V174.8M321.8 174.8V175.8M329.6 167.3V168.2M329.6 168.2V169.1M337.5 155.1V155.8M337.5 155.8V156.6M345.3 144.4V145.1M345.3 145.1V145.8M353.1 129.3V129.9M353.1 129.9V130.5M360.9 106.5V106.9M360.9 106.9V107.4" stroke="#16b316" stroke-width="1" fill="none" stroke-dasharray="3,2"/>
<path d="M54.2 262.5h3M54.2 271.4h3M62.0 253.1h3M62.0 260.3h3M69.9 250.4h3M69.9 257.5h3M77.7 254.2h3M77.7 261.7h3M85.5 259.3h3M85.5 267.8h3M93.3 258.1h3M93.3 267.2h3M101.2 256.4h3M101.2 263.9h3M109.0 253.3h3M109.0 260.9h3M116.8 259.9h3M116.8 267.6h3M124.7 247.8h3M124.7 253.7h3M132.5 251.9h3M132.5 258.2h3M140.3 255.4h3M140.3 263.3h3M148.1 248.7h3M148.1 255.7h3M156.0 243.6h3M156.0 250.1h3M163.8 245.6h3M163.8 252.0h3M171.6 244.7h3M171.6 251.2h3M179.4 244.2h3M179.4 251.0h3M187.3 239.5h3M187.3 245.8h3M195.1 236.3h3M195.1 242.2h3M202.9 238.1h3M202.9 244.0h3M210.7 233.1h3M210.7 238.7h3M218.6 230.4h3M218.6 236.1h3M226.4 224.6h3M226.4 229.6h3M234.2 222.2h3M234.2 227.3h3M242.0 225.6h3M242.0 230.8h3M249.9 219.8h3M249.9 224.1h3M257.7 216.0h3M257.7 220.0h3M265.5 215.0h3M265.5 218.8h3M273.4 208.8h3M273.4 212.2h3M281.2 204.8h3M281.2 208.1h3M289.0 201.1h3M289.0 204.0h3M296.8 194.9h3M296.8 197.3h3M304.7 187.3h3M304.7 189.5h3M312.5 182.6h3M312.5 184.7h3M320.3 173.9h3M320.3 175.8h3M328.1 167.3h3M328.1 169.1h3M336.0 155.1h3M336.0 156.6h3M343.8 144.4h3M343.8 145.8h3M351.6 129.3h3M351.6 130.5h3M359.4 106.5h3M359.4 107.4h3" stroke="#16b316" stroke-width="1" fill="none"/>
<polygon points="55.71,269.69 52.91,264.49 58.51,264.49" fill="#16b316"/><polygon points="63.54,259.57 60.74,254.37 66.34,254.37" fill="#16b316"/><polygon points="71.37,256.82 68.57,251.62 74.17,251.62" fill="#16b316"/><polygon points="79.19,260.80 76.39,255.60 81.99,255.60" fill="#16b316"/><polygon points="87.02,266.35 84.22,261.15 89.82,261.15" fill="#16b316"/><polygon points="94.85,265.40 92.05,260.20 97.65,260.20" fill="#16b316"/><polygon points="102.67,262.99 99.87,257.79 105.47,257.79" fill="#16b316"/><polygon points="110.50,259.95 107.70,254.75 113.30,254.75" fill="#16b316"/><polygon points="118.33,266.57 115.53,261.37 121.13,261.37" fill="#16b316"/><polygon points="126.15,253.70 123.35,248.50 128.95,248.50" fill="#16b316"/><polygon points="133.98,257.98 131.18,252.78 136.78,252.78" fill="#16b316"/><polygon points="141.80,262.22 139.00,257.02 144.60,257.02" fill="#16b316"/><polygon points="149.63,255.11 146.83,249.91 152.43,249.91" fill="#16b316"/><polygon points="157.46,249.81 154.66,244.61 160.26,244.61" fill="#16b316"/><polygon points="165.28,251.71 162.48,246.51 168.08,246.51" fill="#16b316"/><polygon points="173.11,250.86 170.31,245.66 175.91,245.66" fill="#16b316"/><polygon points="180.94,250.54 178.14,245.34 183.74,245.34" fill="#16b316"/><polygon points="188.76,245.61 185.96,240.41 191.56,240.41" fill="#16b316"/><polygon points="196.59,242.18 193.79,236.98 199.39,236.98" fill="#16b316"/><polygon points="204.42,244.00 201.62,238.80 207.22,238.80" fill="#16b316"/><polygon points="212.24,238.89 209.44,233.69 215.04,233.69" fill="#16b316"/><polygon points="220.07,236.26 217.27,231.06 222.87,231.06" fill="#16b316"/><polygon points="227.90,230.11 225.10,224.91 230.70,224.91" fill="#16b316"/><polygon points="235.72,227.75 232.92,222.55 238.52,222.55" fill="#16b316"/><polygon points="243.55,231.15 240.75,225.95 246.35,225.95" fill="#16b316"/><polygon points="251.38,224.99 248.58,219.79 254.18,219.79" fill="#16b316"/><polygon points="259.20,221.06 256.40,215.86 262.00,215.86" fill="#16b316"/><polygon points="267.03,219.96 264.23,214.76 269.83,214.76" fill="#16b316"/><polygon points="274.86,213.55 272.06,208.35 277.66,208.35" fill="#16b316"/><polygon points="282.68,209.53 279.88,204.33 285.48,204.33" fill="#16b316"/><polygon points="290.51,205.59 287.71,200.39 293.31,200.39" fill="#16b316"/><polygon points="298.33,199.21 295.53,194.01 301.13,194.01" fill="#16b316"/><polygon points="306.16,191.50 303.36,186.30 308.96,186.30" fill="#16b316"/><polygon points="313.99,186.71 311.19,181.51 316.79,181.51" fill="#16b316"/><polygon points="321.81,177.93 319.01,172.73 324.61,172.73" fill="#16b316"/><polygon points="329.64,171.30 326.84,166.10 332.44,166.10" fill="#16b316"/><polygon points="337.47,158.95 334.67,153.75 340.27,153.75" fill="#16b316"/><polygon points="345.29,148.23 342.49,143.03 348.09,143.03" fill="#16b316"/><polygon points="353.12,133.00 350.32,127.80 355.92,127.80" fill="#16b316"/><polygon points="360.95,110.03 358.15,104.83 363.75,104.83" fill="#16b316"/>
</g>
<g clip-path="url(#cm)">
<polyline points="55.7,262.8 63.5,264.4 71.4,261.1 79.2,264.6 87.0,263.6 94.8,258.8 102.7,254.6 110.5,253.4 118.3,260.6 126.2,253.5 134.0,250.5 141.8,249.9 149.6,244.7 157.5,249.3 165.3,246.1 173.1,240.9 180.9,248.4 188.8,236.1 196.6,239.3 204.4,236.2 212.2,226.3 220.1,231.4 227.9,221.5 235.7,220.2 243.5,221.2 251.4,213.2 259.2,212.6 267.0,204.1 274.9,201.3 282.7,194.6 290.5,190.7 298.3,184.8 306.2,178.7 314.0,172.2 321.8,165.7 329.6,159.7 337.5,149.3 345.3,142.9 353.1,131.4 360.9,116.6" fill="none" stroke="#474747" stroke-width="1"/>
<path d="M55.7 259.0V260.2M55.7 265.4V267.3M63.5 260.5V261.8M63.5 267.0V268.9M71.4 257.3V258.5M71.4 263.7V265.4M79.2 260.7V262.0M79.2 267.2V269.1M87.0 259.6V261.0M87.0 266.2V268.2M94.8 254.8V256.2M94.8 261.4V263.4M102.7 251.4V252.0M102.7 257.2V258.2M110.5 250.1V250.8M110.5 256.0V257.2M118.3 257.2V258.0M118.3 263.2V264.5M126.2 250.5V250.9M126.2 256.1V256.8M134.0 247.8V247.9M134.0 253.1V253.5M141.8 246.8V247.3M141.8 252.5V253.4M149.6 241.9V242.1M149.6 247.3V247.9M157.5 246.1V246.7M157.5 251.9V253.0M165.3 243.2V243.5M165.3 248.7V249.4M173.1 238.1V238.3M173.1 243.5V243.9M180.9 245.1V245.8M180.9 251.0V252.0M188.8 233.4V233.5M188.8 238.7V239.0M196.6 236.5V236.7M196.6 241.9V242.5M204.4 238.8V239.1M220.1 228.8V228.8M220.1 234.0V234.3" stroke="#474747" stroke-width="1" fill="none"/>
<path d="M54.2 259.0h3M54.2 267.3h3M62.0 260.5h3M62.0 268.9h3M69.9 257.3h3M69.9 265.4h3M77.7 260.7h3M77.7 269.1h3M85.5 259.6h3M85.5 268.2h3M93.3 254.8h3M93.3 263.4h3M101.2 251.4h3M101.2 258.2h3M109.0 250.1h3M109.0 257.2h3M116.8 257.2h3M116.8 264.5h3M124.7 250.5h3M124.7 256.8h3M132.5 247.8h3M132.5 253.5h3M140.3 246.8h3M140.3 253.4h3M148.1 241.9h3M148.1 247.9h3M156.0 246.1h3M156.0 253.0h3M163.8 243.2h3M163.8 249.4h3M171.6 238.1h3M171.6 243.9h3M179.4 245.1h3M179.4 252.0h3M187.3 233.4h3M187.3 239.0h3M195.1 236.5h3M195.1 242.5h3M202.9 233.6h3M202.9 239.1h3M210.7 224.0h3M210.7 228.7h3M218.6 228.8h3M218.6 234.3h3M226.4 219.3h3M226.4 223.8h3M234.2 218.0h3M234.2 222.7h3M242.0 219.0h3M242.0 223.6h3M249.9 211.4h3M249.9 215.2h3M257.7 210.9h3M257.7 214.5h3M265.5 202.6h3M265.5 205.6h3M273.4 199.9h3M273.4 202.8h3M281.2 193.4h3M281.2 196.0h3M289.0 189.5h3M289.0 191.9h3M296.8 183.8h3M296.8 185.8h3M304.7 177.8h3M304.7 179.6h3M312.5 171.4h3M312.5 173.1h3M320.3 164.9h3M320.3 166.5h3M328.1 158.9h3M328.1 160.4h3M336.0 148.6h3M336.0 150.0h3M343.8 142.3h3M343.8 143.6h3M351.6 130.8h3M351.6 132.0h3M359.4 116.1h3M359.4 117.2h3" stroke="#474747" stroke-width="1" fill="none"/>
<circle cx="55.71" cy="262.83" r="2.40" fill="none" stroke="#474747" stroke-width="1"/><circle cx="63.54" cy="264.40" r="2.40" fill="none" stroke="#474747" stroke-width="1"/><circle cx="71.37" cy="261.09" r="2.40" fill="none" stroke="#474747" stroke-width="1"/><circle cx="79.19" cy="264.57" r="2.40" fill="none" stroke="#474747" stroke-width="1"/><circle cx="87.02" cy="263.60" r="2.40" fill="none" stroke="#474747" stroke-width="1"/><circle cx="94.85" cy="258.76" r="2.40" fill="none" stroke="#474747" stroke-width="1"/><circle cx="102.67" cy="254.60" r="2.40" fill="none" stroke="#474747" stroke-width="1"/><circle cx="110.50" cy="253.41" r="2.40" fill="none" stroke="#474747" stroke-width="1"/><circle cx="118.33" cy="260.62" r="2.40" fill="none" stroke="#474747" stroke-width="1"/><circle cx="126.15" cy="253.48" r="2.40" fill="none" stroke="#474747" stroke-width="1"/><circle cx="133.98" cy="250.49" r="2.40" fill="none" stroke="#474747" stroke-width="1"/><circle cx="141.80" cy="249.91" r="2.40" fill="none" stroke="#474747" stroke-width="1"/><circle cx="149.63" cy="244.73" r="2.40" fill="none" stroke="#474747" stroke-width="1"/><circle cx="157.46" cy="249.33" r="2.40" fill="none" stroke="#474747" stroke-width="1"/><circle cx="165.28" cy="246.13" r="2.40" fill="none" stroke="#474747" stroke-width="1"/><circle cx="173.11" cy="240.85" r="2.40" fill="none" stroke="#474747" stroke-width="1"/><circle cx="180.94" cy="248.35" r="2.40" fill="none" stroke="#474747" stroke-width="1"/><circle cx="188.76" cy="236.07" r="2.40" fill="none" stroke="#474747" stroke-width="1"/><circle cx="196.59" cy="239.34" r="2.40" fill="none" stroke="#474747" stroke-width="1"/><circle cx="204.42" cy="236.21" r="2.40" fill="none" stroke="#474747" stroke-width="1"/><circle cx="212.24" cy="226.27" r="2.40" fill="none" stroke="#474747" stroke-width="1"/><circle cx="220.07" cy="231.39" r="2.40" fill="none" stroke="#474747" stroke-width="1"/><circle cx="227.90" cy="221.47" r="2.40" fill="none" stroke="#474747" stroke-width="1"/><circle cx="235.72" cy="220.24" r="2.40" fill="none" stroke="#474747" stroke-width="1"/><circle cx="243.55" cy="221.17" r="2.40" fill="none" stroke="#474747" stroke-width="1"/><circle cx="251.38" cy="213.24" r="2.40" fill="none" stroke="#474747" stroke-width="1"/><circle cx="259.20" cy="212.64" r="2.40" fill="none" stroke="#474747" stroke-width="1"/><circle cx="267.03" cy="204.06" r="2.40" fill="none" stroke="#474747" stroke-width="1"/><circle cx="274.86" cy="201.33" r="2.40" fill="none" stroke="#474747" stroke-width="1"/><circle cx="282.68" cy="194.63" r="2.40" fill="none" stroke="#474747" stroke-width="1"/><circle cx="290.51" cy="190.69" r="2.40" fill="none" stroke="#474747" stroke-width="1"/><circle cx="298.33" cy="184.80" r="2.40" fill="none" stroke="#474747" stroke-width="1"/><circle cx="306.16" cy="178.68" r="2.40" fill="none" stroke="#474747" stroke-width="1"/><circle cx="313.99" cy="172.22" r="2.40" fill="none" stroke="#474747" stroke-width="1"/><circle cx="321.81" cy="165.65" r="2.40" fill="none" stroke="#474747" stroke-width="1"/><circle cx="329.64" cy="159.67" r="2.40" fill="none" stroke="#474747" stroke-width="1"/><circle cx="337.47" cy="149.27" r="2.40" fill="none" stroke="#474747" stroke-width="1"/><circle cx="345.29" cy="142.90" r="2.40" fill="none" stroke="#474747" stroke-width="1"/><circle cx="353.12" cy="131.44" r="2.40" fill="none" stroke="#474747" stroke-width="1"/><circle cx="360.95" cy="116.61" r="2.40" fill="none" stroke="#474747" stroke-width="1"/>
</g>
<rect x="45.5" y="17.4" width="325.7" height="460.1" fill="none" stroke="#000" stroke-width="1.2"/>
<line x1="45.5" y1="317.5" x2="371.2" y2="317.5" stroke="#000" stroke-width="1.2"/>
<line x1="51.80" y1="17.40" x2="51.80" y2="25.40" stroke="#000" stroke-width="1"/><line x1="51.80" y1="317.50" x2="51.80" y2="309.50" stroke="#000" stroke-width="1"/><line x1="51.80" y1="317.50" x2="51.80" y2="322.00" stroke="#000" stroke-width="1"/><line x1="51.80" y1="477.50" x2="51.80" y2="473.00" stroke="#000" stroke-width="1"/><line x1="61.77" y1="17.40" x2="61.77" y2="19.90" stroke="#000" stroke-width="1"/><line x1="61.77" y1="317.50" x2="61.77" y2="315.00" stroke="#000" stroke-width="1"/><line x1="61.77" y1="317.50" x2="61.77" y2="318.70" stroke="#000" stroke-width="1"/><line x1="61.77" y1="477.50" x2="61.77" y2="476.30" stroke="#000" stroke-width="1"/><line x1="71.73" y1="17.40" x2="71.73" y2="21.40" stroke="#000" stroke-width="1"/><line x1="71.73" y1="317.50" x2="71.73" y2="313.50" stroke="#000" stroke-width="1"/><line x1="71.73" y1="317.50" x2="71.73" y2="319.50" stroke="#000" stroke-width="1"/><line x1="71.73" y1="477.50" x2="71.73" y2="475.50" stroke="#000" stroke-width="1"/><line x1="81.70" y1="17.40" x2="81.70" y2="19.90" stroke="#000" stroke-width="1"/><line x1="81.70" y1="317.50" x2="81.70" y2="315.00" stroke="#000" stroke-width="1"/><line x1="81.70" y1="317.50" x2="81.70" y2="318.70" stroke="#000" stroke-width="1"/><line x1="81.70" y1="477.50" x2="81.70" y2="476.30" stroke="#000" stroke-width="1"/><line x1="91.66" y1="17.40" x2="91.66" y2="21.40" stroke="#000" stroke-width="1"/><line x1="91.66" y1="317.50" x2="91.66" y2="313.50" stroke="#000" stroke-width="1"/><line x1="91.66" y1="317.50" x2="91.66" y2="319.50" stroke="#000" stroke-width="1"/><line x1="91.66" y1="477.50" x2="91.66" y2="475.50" stroke="#000" stroke-width="1"/><line x1="101.62" y1="17.40" x2="101.62" y2="19.90" stroke="#000" stroke-width="1"/><line x1="101.62" y1="317.50" x2="101.62" y2="315.00" stroke="#000" stroke-width="1"/><line x1="101.62" y1="317.50" x2="101.62" y2="318.70" stroke="#000" stroke-width="1"/><line x1="101.62" y1="477.50" x2="101.62" y2="476.30" stroke="#000" stroke-width="1"/><line x1="111.59" y1="17.40" x2="111.59" y2="21.40" stroke="#000" stroke-width="1"/><line x1="111.59" y1="317.50" x2="111.59" y2="313.50" stroke="#000" stroke-width="1"/><line x1="111.59" y1="317.50" x2="111.59" y2="319.50" stroke="#000" stroke-width="1"/><line x1="111.59" y1="477.50" x2="111.59" y2="475.50" stroke="#000" stroke-width="1"/><line x1="121.56" y1="17.40" x2="121.56" y2="19.90" stroke="#000" stroke-width="1"/><line x1="121.56" y1="317.50" x2="121.56" y2="315.00" stroke="#000" stroke-width="1"/><line x1="121.56" y1="317.50" x2="121.56" y2="318.70" stroke="#000" stroke-width="1"/><line x1="121.56" y1="477.50" x2="121.56" y2="476.30" stroke="#000" stroke-width="1"/><line x1="131.52" y1="17.40" x2="131.52" y2="21.40" stroke="#000" stroke-width="1"/><line x1="131.52" y1="317.50" x2="131.52" y2="313.50" stroke="#000" stroke-width="1"/><line x1="131.52" y1="317.50" x2="131.52" y2="319.50" stroke="#000" stroke-width="1"/><line x1="131.52" y1="477.50" x2="131.52" y2="475.50" stroke="#000" stroke-width="1"/><line x1="141.49" y1="17.40" x2="141.49" y2="19.90" stroke="#000" stroke-width="1"/><line x1="141.49" y1="317.50" x2="141.49" y2="315.00" stroke="#000" stroke-width="1"/><line x1="141.49" y1="317.50" x2="141.49" y2="318.70" stroke="#000" stroke-width="1"/><line x1="141.49" y1="477.50" x2="141.49" y2="476.30" stroke="#000" stroke-width="1"/><line x1="151.45" y1="17.40" x2="151.45" y2="25.40" stroke="#000" stroke-width="1"/><line x1="151.45" y1="317.50" x2="151.45" y2="309.50" stroke="#000" stroke-width="1"/><line x1="151.45" y1="317.50" x2="151.45" y2="322.00" stroke="#000" stroke-width="1"/><line x1="151.45" y1="477.50" x2="151.45" y2="473.00" stroke="#000" stroke-width="1"/><line x1="161.42" y1="17.40" x2="161.42" y2="19.90" stroke="#000" stroke-width="1"/><line x1="161.42" y1="317.50" x2="161.42" y2="315.00" stroke="#000" stroke-width="1"/><line x1="161.42" y1="317.50" x2="161.42" y2="318.70" stroke="#000" stroke-width="1"/><line x1="161.42" y1="477.50" x2="161.42" y2="476.30" stroke="#000" stroke-width="1"/><line x1="171.38" y1="17.40" x2="171.38" y2="21.40" stroke="#000" stroke-width="1"/><line x1="171.38" y1="317.50" x2="171.38" y2="313.50" stroke="#000" stroke-width="1"/><line x1="171.38" y1="317.50" x2="171.38" y2="319.50" stroke="#000" stroke-width="1"/><line x1="171.38" y1="477.50" x2="171.38" y2="475.50" stroke="#000" stroke-width="1"/><line x1="181.35" y1="17.40" x2="181.35" y2="19.90" stroke="#000" stroke-width="1"/><line x1="181.35" y1="317.50" x2="181.35" y2="315.00" stroke="#000" stroke-width="1"/><line x1="181.35" y1="317.50" x2="181.35" y2="318.70" stroke="#000" stroke-width="1"/><line x1="181.35" y1="477.50" x2="181.35" y2="476.30" stroke="#000" stroke-width="1"/><line x1="191.31" y1="17.40" x2="191.31" y2="21.40" stroke="#000" stroke-width="1"/><line x1="191.31" y1="317.50" x2="191.31" y2="313.50" stroke="#000" stroke-width="1"/><line x1="191.31" y1="317.50" x2="191.31" y2="319.50" stroke="#000" stroke-width="1"/><line x1="191.31" y1="477.50" x2="191.31" y2="475.50" stroke="#000" stroke-width="1"/><line x1="201.28" y1="17.40" x2="201.28" y2="19.90" stroke="#000" stroke-width="1"/><line x1="201.28" y1="317.50" x2="201.28" y2="315.00" stroke="#000" stroke-width="1"/><line x1="201.28" y1="317.50" x2="201.28" y2="318.70" stroke="#000" stroke-width="1"/><line x1="201.28" y1="477.50" x2="201.28" y2="476.30" stroke="#000" stroke-width="1"/><line x1="211.24" y1="17.40" x2="211.24" y2="21.40" stroke="#000" stroke-width="1"/><line x1="211.24" y1="317.50" x2="211.24" y2="313.50" stroke="#000" stroke-width="1"/><line x1="211.24" y1="317.50" x2="211.24" y2="319.50" stroke="#000" stroke-width="1"/><line x1="211.24" y1="477.50" x2="211.24" y2="475.50" stroke="#000" stroke-width="1"/><line x1="221.21" y1="17.40" x2="221.21" y2="19.90" stroke="#000" stroke-width="1"/><line x1="221.21" y1="317.50" x2="221.21" y2="315.00" stroke="#000" stroke-width="1"/><line x1="221.21" y1="317.50" x2="221.21" y2="318.70" stroke="#000" stroke-width="1"/><line x1="221.21" y1="477.50" x2="221.21" y2="476.30" stroke="#000" stroke-width="1"/><line x1="231.17" y1="17.40" x2="231.17" y2="21.40" stroke="#000" stroke-width="1"/><line x1="231.17" y1="317.50" x2="231.17" y2="313.50" stroke="#000" stroke-width="1"/><line x1="231.17" y1="317.50" x2="231.17" y2="319.50" stroke="#000" stroke-width="1"/><line x1="231.17" y1="477.50" x2="231.17" y2="475.50" stroke="#000" stroke-width="1"/><line x1="241.14" y1="17.40" x2="241.14" y2="19.90" stroke="#000" stroke-width="1"/><line x1="241.14" y1="317.50" x2="241.14" y2="315.00" stroke="#000" stroke-width="1"/><line x1="241.14" y1="317.50" x2="241.14" y2="318.70" stroke="#000" stroke-width="1"/><line x1="241.14" y1="477.50" x2="241.14" y2="476.30" stroke="#000" stroke-width="1"/><line x1="251.10" y1="17.40" x2="251.10" y2="25.40" stroke="#000" stroke-width="1"/><line x1="251.10" y1="317.50" x2="251.10" y2="309.50" stroke="#000" stroke-width="1"/><line x1="251.10" y1="317.50" x2="251.10" y2="322.00" stroke="#000" stroke-width="1"/><line x1="251.10" y1="477.50" x2="251.10" y2="473.00" stroke="#000" stroke-width="1"/><line x1="261.06" y1="17.40" x2="261.06" y2="19.90" stroke="#000" stroke-width="1"/><line x1="261.06" y1="317.50" x2="261.06" y2="315.00" stroke="#000" stroke-width="1"/><line x1="261.06" y1="317.50" x2="261.06" y2="318.70" stroke="#000" stroke-width="1"/><line x1="261.06" y1="477.50" x2="261.06" y2="476.30" stroke="#000" stroke-width="1"/><line x1="271.03" y1="17.40" x2="271.03" y2="21.40" stroke="#000" stroke-width="1"/><line x1="271.03" y1="317.50" x2="271.03" y2="313.50" stroke="#000" stroke-width="1"/><line x1="271.03" y1="317.50" x2="271.03" y2="319.50" stroke="#000" stroke-width="1"/><line x1="271.03" y1="477.50" x2="271.03" y2="475.50" stroke="#000" stroke-width="1"/><line x1="281.00" y1="17.40" x2="281.00" y2="19.90" stroke="#000" stroke-width="1"/><line x1="281.00" y1="317.50" x2="281.00" y2="315.00" stroke="#000" stroke-width="1"/><line x1="281.00" y1="317.50" x2="281.00" y2="318.70" stroke="#000" stroke-width="1"/><line x1="281.00" y1="477.50" x2="281.00" y2="476.30" stroke="#000" stroke-width="1"/><line x1="290.96" y1="17.40" x2="290.96" y2="21.40" stroke="#000" stroke-width="1"/><line x1="290.96" y1="317.50" x2="290.96" y2="313.50" stroke="#000" stroke-width="1"/><line x1="290.96" y1="317.50" x2="290.96" y2="319.50" stroke="#000" stroke-width="1"/><line x1="290.96" y1="477.50" x2="290.96" y2="475.50" stroke="#000" stroke-width="1"/><line x1="300.93" y1="17.40" x2="300.93" y2="19.90" stroke="#000" stroke-width="1"/><line x1="300.93" y1="317.50" x2="300.93" y2="315.00" stroke="#000" stroke-width="1"/><line x1="300.93" y1="317.50" x2="300.93" y2="318.70" stroke="#000" stroke-width="1"/><line x1="300.93" y1="477.50" x2="300.93" y2="476.30" stroke="#000" stroke-width="1"/><line x1="310.89" y1="17.40" x2="310.89" y2="21.40" stroke="#000" stroke-width="1"/><line x1="310.89" y1="317.50" x2="310.89" y2="313.50" stroke="#000" stroke-width="1"/><line x1="310.89" y1="317.50" x2="310.89" y2="319.50" stroke="#000" stroke-width="1"/><line x1="310.89" y1="477.50" x2="310.89" y2="475.50" stroke="#000" stroke-width="1"/><line x1="320.86" y1="17.40" x2="320.86" y2="19.90" stroke="#000" stroke-width="1"/><line x1="320.86" y1="317.50" x2="320.86" y2="315.00" stroke="#000" stroke-width="1"/><line x1="320.86" y1="317.50" x2="320.86" y2="318.70" stroke="#000" stroke-width="1"/><line x1="320.86" y1="477.50" x2="320.86" y2="476.30" stroke="#000" stroke-width="1"/><line x1="330.82" y1="17.40" x2="330.82" y2="21.40" stroke="#000" stroke-width="1"/><line x1="330.82" y1="317.50" x2="330.82" y2="313.50" stroke="#000" stroke-width="1"/><line x1="330.82" y1="317.50" x2="330.82" y2="319.50" stroke="#000" stroke-width="1"/><line x1="330.82" y1="477.50" x2="330.82" y2="475.50" stroke="#000" stroke-width="1"/><line x1="340.79" y1="17.40" x2="340.79" y2="19.90" stroke="#000" stroke-width="1"/><line x1="340.79" y1="317.50" x2="340.79" y2="315.00" stroke="#000" stroke-width="1"/><line x1="340.79" y1="317.50" x2="340.79" y2="318.70" stroke="#000" stroke-width="1"/><line x1="340.79" y1="477.50" x2="340.79" y2="476.30" stroke="#000" stroke-width="1"/><line x1="350.75" y1="17.40" x2="350.75" y2="25.40" stroke="#000" stroke-width="1"/><line x1="350.75" y1="317.50" x2="350.75" y2="309.50" stroke="#000" stroke-width="1"/><line x1="350.75" y1="317.50" x2="350.75" y2="322.00" stroke="#000" stroke-width="1"/><line x1="350.75" y1="477.50" x2="350.75" y2="473.00" stroke="#000" stroke-width="1"/><line x1="360.72" y1="17.40" x2="360.72" y2="19.90" stroke="#000" stroke-width="1"/><line x1="360.72" y1="317.50" x2="360.72" y2="315.00" stroke="#000" stroke-width="1"/><line x1="360.72" y1="317.50" x2="360.72" y2="318.70" stroke="#000" stroke-width="1"/><line x1="360.72" y1="477.50" x2="360.72" y2="476.30" stroke="#000" stroke-width="1"/><line x1="370.68" y1="17.40" x2="370.68" y2="21.40" stroke="#000" stroke-width="1"/><line x1="370.68" y1="317.50" x2="370.68" y2="313.50" stroke="#000" stroke-width="1"/><line x1="370.68" y1="317.50" x2="370.68" y2="319.50" stroke="#000" stroke-width="1"/><line x1="370.68" y1="477.50" x2="370.68" y2="475.50" stroke="#000" stroke-width="1"/><line x1="45.50" y1="314.02" x2="51.30" y2="314.02" stroke="#000" stroke-width="1"/><line x1="371.20" y1="314.02" x2="365.40" y2="314.02" stroke="#000" stroke-width="1"/><line x1="45.50" y1="309.79" x2="51.30" y2="309.79" stroke="#000" stroke-width="1"/><line x1="371.20" y1="309.79" x2="365.40" y2="309.79" stroke="#000" stroke-width="1"/><line x1="45.50" y1="306.12" x2="51.30" y2="306.12" stroke="#000" stroke-width="1"/><line x1="371.20" y1="306.12" x2="365.40" y2="306.12" stroke="#000" stroke-width="1"/><line x1="45.50" y1="302.89" x2="51.30" y2="302.89" stroke="#000" stroke-width="1"/><line x1="371.20" y1="302.89" x2="365.40" y2="302.89" stroke="#000" stroke-width="1"/><line x1="45.50" y1="300.00" x2="57.00" y2="300.00" stroke="#000" stroke-width="1"/><line x1="371.20" y1="300.00" x2="359.70" y2="300.00" stroke="#000" stroke-width="1"/><line x1="45.50" y1="280.97" x2="51.30" y2="280.97" stroke="#000" stroke-width="1"/><line x1="371.20" y1="280.97" x2="365.40" y2="280.97" stroke="#000" stroke-width="1"/><line x1="45.50" y1="269.85" x2="51.30" y2="269.85" stroke="#000" stroke-width="1"/><line x1="371.20" y1="269.85" x2="365.40" y2="269.85" stroke="#000" stroke-width="1"/><line x1="45.50" y1="261.95" x2="51.30" y2="261.95" stroke="#000" stroke-width="1"/><line x1="371.20" y1="261.95" x2="365.40" y2="261.95" stroke="#000" stroke-width="1"/><line x1="45.50" y1="255.83" x2="51.30" y2="255.83" stroke="#000" stroke-width="1"/><line x1="371.20" y1="255.83" x2="365.40" y2="255.83" stroke="#000" stroke-width="1"/><line x1="45.50" y1="250.82" x2="51.30" y2="250.82" stroke="#000" stroke-width="1"/><line x1="371.20" y1="250.82" x2="365.40" y2="250.82" stroke="#000" stroke-width="1"/><line x1="45.50" y1="246.59" x2="51.30" y2="246.59" stroke="#000" stroke-width="1"/><line x1="371.20" y1="246.59" x2="365.40" y2="246.59" stroke="#000" stroke-width="1"/><line x1="45.50" y1="242.92" x2="51.30" y2="242.92" stroke="#000" stroke-width="1"/><line x1="371.20" y1="242.92" x2="365.40" y2="242.92" stroke="#000" stroke-width="1"/><line x1="45.50" y1="239.69" x2="51.30" y2="239.69" stroke="#000" stroke-width="1"/><line x1="371.20" y1="239.69" x2="365.40" y2="239.69" stroke="#000" stroke-width="1"/><line x1="45.50" y1="236.80" x2="57.00" y2="236.80" stroke="#000" stroke-width="1"/><line x1="371.20" y1="236.80" x2="359.70" y2="236.80" stroke="#000" stroke-width="1"/><line x1="45.50" y1="217.77" x2="51.30" y2="217.77" stroke="#000" stroke-width="1"/><line x1="371.20" y1="217.77" x2="365.40" y2="217.77" stroke="#000" stroke-width="1"/><line x1="45.50" y1="206.65" x2="51.30" y2="206.65" stroke="#000" stroke-width="1"/><line x1="371.20" y1="206.65" x2="365.40" y2="206.65" stroke="#000" stroke-width="1"/><line x1="45.50" y1="198.75" x2="51.30" y2="198.75" stroke="#000" stroke-width="1"/><line x1="371.20" y1="198.75" x2="365.40" y2="198.75" stroke="#000" stroke-width="1"/><line x1="45.50" y1="192.63" x2="51.30" y2="192.63" stroke="#000" stroke-width="1"/><line x1="371.20" y1="192.63" x2="365.40" y2="192.63" stroke="#000" stroke-width="1"/><line x1="45.50" y1="187.62" x2="51.30" y2="187.62" stroke="#000" stroke-width="1"/><line x1="371.20" y1="187.62" x2="365.40" y2="187.62" stroke="#000" stroke-width="1"/><line x1="45.50" y1="183.39" x2="51.30" y2="183.39" stroke="#000" stroke-width="1"/><line x1="371.20" y1="183.39" x2="365.40" y2="183.39" stroke="#000" stroke-width="1"/><line x1="45.50" y1="179.72" x2="51.30" y2="179.72" stroke="#000" stroke-width="1"/><line x1="371.20" y1="179.72" x2="365.40" y2="179.72" stroke="#000" stroke-width="1"/><line x1="45.50" y1="176.49" x2="51.30" y2="176.49" stroke="#000" stroke-width="1"/><line x1="371.20" y1="176.49" x2="365.40" y2="176.49" stroke="#000" stroke-width="1"/><line x1="45.50" y1="173.60" x2="57.00" y2="173.60" stroke="#000" stroke-width="1"/><line x1="371.20" y1="173.60" x2="359.70" y2="173.60" stroke="#000" stroke-width="1"/><line x1="45.50" y1="154.57" x2="51.30" y2="154.57" stroke="#000" stroke-width="1"/><line x1="371.20" y1="154.57" x2="365.40" y2="154.57" stroke="#000" stroke-width="1"/><line x1="45.50" y1="143.45" x2="51.30" y2="143.45" stroke="#000" stroke-width="1"/><line x1="371.20" y1="143.45" x2="365.40" y2="143.45" stroke="#000" stroke-width="1"/><line x1="45.50" y1="135.55" x2="51.30" y2="135.55" stroke="#000" stroke-width="1"/><line x1="371.20" y1="135.55" x2="365.40" y2="135.55" stroke="#000" stroke-width="1"/><line x1="45.50" y1="129.43" x2="51.30" y2="129.43" stroke="#000" stroke-width="1"/><line x1="371.20" y1="129.43" x2="365.40" y2="129.43" stroke="#000" stroke-width="1"/><line x1="45.50" y1="124.42" x2="51.30" y2="124.42" stroke="#000" stroke-width="1"/><line x1="371.20" y1="124.42" x2="365.40" y2="124.42" stroke="#000" stroke-width="1"/><line x1="45.50" y1="120.19" x2="51.30" y2="120.19" stroke="#000" stroke-width="1"/><line x1="371.20" y1="120.19" x2="365.40" y2="120.19" stroke="#000" stroke-width="1"/><line x1="45.50" y1="116.52" x2="51.30" y2="116.52" stroke="#000" stroke-width="1"/><line x1="371.20" y1="116.52" x2="365.40" y2="116.52" stroke="#000" stroke-width="1"/><line x1="45.50" y1="113.29" x2="51.30" y2="113.29" stroke="#000" stroke-width="1"/><line x1="371.20" y1="113.29" x2="365.40" y2="113.29" stroke="#000" stroke-width="1"/><line x1="45.50" y1="110.40" x2="57.00" y2="110.40" stroke="#000" stroke-width="1"/><line x1="371.20" y1="110.40" x2="359.70" y2="110.40" stroke="#000" stroke-width="1"/><line x1="45.50" y1="91.37" x2="51.30" y2="91.37" stroke="#000" stroke-width="1"/><line x1="371.20" y1="91.37" x2="365.40" y2="91.37" stroke="#000" stroke-width="1"/><line x1="45.50" y1="80.25" x2="51.30" y2="80.25" stroke="#000" stroke-width="1"/><line x1="371.20" y1="80.25" x2="365.40" y2="80.25" stroke="#000" stroke-width="1"/><line x1="45.50" y1="72.35" x2="51.30" y2="72.35" stroke="#000" stroke-width="1"/><line x1="371.20" y1="72.35" x2="365.40" y2="72.35" stroke="#000" stroke-width="1"/><line x1="45.50" y1="66.23" x2="51.30" y2="66.23" stroke="#000" stroke-width="1"/><line x1="371.20" y1="66.23" x2="365.40" y2="66.23" stroke="#000" stroke-width="1"/><line x1="45.50" y1="61.22" x2="51.30" y2="61.22" stroke="#000" stroke-width="1"/><line x1="371.20" y1="61.22" x2="365.40" y2="61.22" stroke="#000" stroke-width="1"/><line x1="45.50" y1="56.99" x2="51.30" y2="56.99" stroke="#000" stroke-width="1"/><line x1="371.20" y1="56.99" x2="365.40" y2="56.99" stroke="#000" stroke-width="1"/><line x1="45.50" y1="53.32" x2="51.30" y2="53.32" stroke="#000" stroke-width="1"/><line x1="371.20" y1="53.32" x2="365.40" y2="53.32" stroke="#000" stroke-width="1"/><line x1="45.50" y1="50.09" x2="51.30" y2="50.09" stroke="#000" stroke-width="1"/><line x1="371.20" y1="50.09" x2="365.40" y2="50.09" stroke="#000" stroke-width="1"/><line x1="45.50" y1="47.20" x2="57.00" y2="47.20" stroke="#000" stroke-width="1"/><line x1="371.20" y1="47.20" x2="359.70" y2="47.20" stroke="#000" stroke-width="1"/><line x1="45.50" y1="28.17" x2="51.30" y2="28.17" stroke="#000" stroke-width="1"/><line x1="371.20" y1="28.17" x2="365.40" y2="28.17" stroke="#000" stroke-width="1"/><line x1="45.50" y1="458.85" x2="53.00" y2="458.85" stroke="#000" stroke-width="1"/><line x1="371.20" y1="458.85" x2="363.70" y2="458.85" stroke="#000" stroke-width="1"/><line x1="45.50" y1="442.79" x2="50.50" y2="442.79" stroke="#000" stroke-width="1"/><line x1="371.20" y1="442.79" x2="366.20" y2="442.79" stroke="#000" stroke-width="1"/><line x1="45.50" y1="429.21" x2="50.50" y2="429.21" stroke="#000" stroke-width="1"/><line x1="371.20" y1="429.21" x2="366.20" y2="429.21" stroke="#000" stroke-width="1"/><line x1="45.50" y1="417.45" x2="50.50" y2="417.45" stroke="#000" stroke-width="1"/><line x1="371.20" y1="417.45" x2="366.20" y2="417.45" stroke="#000" stroke-width="1"/><line x1="45.50" y1="407.08" x2="50.50" y2="407.08" stroke="#000" stroke-width="1"/><line x1="371.20" y1="407.08" x2="366.20" y2="407.08" stroke="#000" stroke-width="1"/><line x1="45.50" y1="397.80" x2="53.00" y2="397.80" stroke="#000" stroke-width="1"/><line x1="371.20" y1="397.80" x2="363.70" y2="397.80" stroke="#000" stroke-width="1"/><line x1="45.50" y1="389.41" x2="50.50" y2="389.41" stroke="#000" stroke-width="1"/><line x1="371.20" y1="389.41" x2="366.20" y2="389.41" stroke="#000" stroke-width="1"/><line x1="45.50" y1="381.74" x2="50.50" y2="381.74" stroke="#000" stroke-width="1"/><line x1="371.20" y1="381.74" x2="366.20" y2="381.74" stroke="#000" stroke-width="1"/><line x1="45.50" y1="374.69" x2="50.50" y2="374.69" stroke="#000" stroke-width="1"/><line x1="371.20" y1="374.69" x2="366.20" y2="374.69" stroke="#000" stroke-width="1"/><line x1="45.50" y1="368.17" x2="50.50" y2="368.17" stroke="#000" stroke-width="1"/><line x1="371.20" y1="368.17" x2="366.20" y2="368.17" stroke="#000" stroke-width="1"/><line x1="45.50" y1="362.09" x2="51.50" y2="362.09" stroke="#000" stroke-width="1"/><line x1="371.20" y1="362.09" x2="365.20" y2="362.09" stroke="#000" stroke-width="1"/><line x1="45.50" y1="356.40" x2="50.50" y2="356.40" stroke="#000" stroke-width="1"/><line x1="371.20" y1="356.40" x2="366.20" y2="356.40" stroke="#000" stroke-width="1"/><line x1="45.50" y1="351.06" x2="50.50" y2="351.06" stroke="#000" stroke-width="1"/><line x1="371.20" y1="351.06" x2="366.20" y2="351.06" stroke="#000" stroke-width="1"/><line x1="45.50" y1="346.03" x2="50.50" y2="346.03" stroke="#000" stroke-width="1"/><line x1="371.20" y1="346.03" x2="366.20" y2="346.03" stroke="#000" stroke-width="1"/><line x1="45.50" y1="341.27" x2="50.50" y2="341.27" stroke="#000" stroke-width="1"/><line x1="371.20" y1="341.27" x2="366.20" y2="341.27" stroke="#000" stroke-width="1"/><line x1="45.50" y1="336.75" x2="53.00" y2="336.75" stroke="#000" stroke-width="1"/><line x1="371.20" y1="336.75" x2="363.70" y2="336.75" stroke="#000" stroke-width="1"/><line x1="45.50" y1="332.45" x2="50.50" y2="332.45" stroke="#000" stroke-width="1"/><line x1="371.20" y1="332.45" x2="366.20" y2="332.45" stroke="#000" stroke-width="1"/><line x1="45.50" y1="328.36" x2="50.50" y2="328.36" stroke="#000" stroke-width="1"/><line x1="371.20" y1="328.36" x2="366.20" y2="328.36" stroke="#000" stroke-width="1"/><line x1="45.50" y1="324.44" x2="50.50" y2="324.44" stroke="#000" stroke-width="1"/><line x1="371.20" y1="324.44" x2="366.20" y2="324.44" stroke="#000" stroke-width="1"/><line x1="45.50" y1="320.69" x2="50.50" y2="320.69" stroke="#000" stroke-width="1"/><line x1="371.20" y1="320.69" x2="366.20" y2="320.69" stroke="#000" stroke-width="1"/>
<text x="51.50" y="14.30" font-size="12.2" text-anchor="start" fill="#000" textLength="71.2" lengthAdjust="spacingAndGlyphs">7000 GeV pp</text>
<text x="272.80" y="14.30" font-size="12.5" text-anchor="start" fill="#000" textLength="95.6" lengthAdjust="spacingAndGlyphs">Top (parton level)</text>
<text x="147" y="43.8" font-size="11.5" style="font-family:'Liberation Serif',serif">&#916;&#981;</text>
<text x="163.60" y="43.80" font-size="9.9" text-anchor="start" fill="#000" textLength="106.4" lengthAdjust="spacingAndGlyphs">(ttbar) (Mtt &gt; 450 dy &lt; 0)</text>
<line x1="64" y1="62.10" x2="89" y2="62.10" stroke="#b8103a" stroke-width="1"/>
<polygon points="76.40,58.50 73.20,64.50 79.60,64.50" fill="#fff" fill-opacity="0" stroke="#b8103a" stroke-width="1"/>
<text x="94.60" y="65.40" font-size="9.6" text-anchor="start" fill="#2a2a2a" textLength="69.80000000000001" lengthAdjust="spacingAndGlyphs">Pythia 6.428 370</text>
<line x1="64" y1="75.16" x2="89" y2="75.16" stroke="#ff3c6e" stroke-width="1" stroke-dasharray="2.5,2"/>
<circle cx="76.40" cy="75.16" r="2.40" fill="none" stroke="#ff3c6e" stroke-width="1"/>
<text x="94.60" y="78.46" font-size="9.6" text-anchor="start" fill="#2a2a2a" textLength="92.0" lengthAdjust="spacingAndGlyphs">Pythia 6.428 atlas-csc</text>
<line x1="64" y1="88.22" x2="89" y2="88.22" stroke="#22cc8e" stroke-width="1" stroke-dasharray="2.5,2"/>
<polygon points="76.40,85.98 78.19,88.22 76.40,90.46 74.61,88.22" fill="#22cc8e"/>
<text x="94.60" y="91.52" font-size="9.6" text-anchor="start" fill="#2a2a2a" textLength="68.0" lengthAdjust="spacingAndGlyphs">Pythia 6.428 d6t</text>
<line x1="64" y1="101.28" x2="89" y2="101.28" stroke="#ff7a30" stroke-width="1" stroke-dasharray="4,2,1,2"/>
<rect x="74.40" y="99.28" width="4.00" height="4.00" fill="#ff7a30"/>
<text x="94.60" y="104.58" font-size="9.6" text-anchor="start" fill="#2a2a2a" textLength="82.80000000000001" lengthAdjust="spacingAndGlyphs">Pythia 6.428 default</text>
<line x1="64" y1="114.34" x2="89" y2="114.34" stroke="#16b316" stroke-width="1" stroke-dasharray="3,2.5"/>
<polygon points="76.40,116.84 74.16,112.68 78.64,112.68" fill="#16b316"/>
<text x="94.60" y="117.64" font-size="9.6" text-anchor="start" fill="#2a2a2a" textLength="66.0" lengthAdjust="spacingAndGlyphs">Pythia 6.428 dw</text>
<line x1="64" y1="127.40" x2="89" y2="127.40" stroke="#474747" stroke-width="1"/>
<circle cx="76.40" cy="127.40" r="2.40" fill="none" stroke="#474747" stroke-width="1"/>
<text x="94.60" y="130.70" font-size="9.6" text-anchor="start" fill="#2a2a2a" textLength="64.5" lengthAdjust="spacingAndGlyphs">Pythia 6.428 p0</text>
<text x="174.20" y="301.80" font-size="8.4" text-anchor="start" fill="#b4b4b4" textLength="67" lengthAdjust="spacingAndGlyphs">(MC_FBA_TTBAR)</text>
<text x="34.30" y="53.00" font-size="11" text-anchor="end" fill="#000">10</text>
<text x="34.60" y="47.20" font-size="7.5" text-anchor="start" fill="#000">3</text>
<text x="34.30" y="116.20" font-size="11" text-anchor="end" fill="#000">10</text>
<text x="34.60" y="110.40" font-size="7.5" text-anchor="start" fill="#000">2</text>
<text x="39.90" y="177.80" font-size="11" text-anchor="end" fill="#000">10</text>
<text x="39.90" y="241.00" font-size="11" text-anchor="end" fill="#000">1</text>
<text x="22.00" y="305.00" font-size="11" text-anchor="start" fill="#000" textLength="10.2" lengthAdjust="spacingAndGlyphs">10</text>
<text x="33.00" y="300.20" font-size="7" text-anchor="start" fill="#000" textLength="6.9" lengthAdjust="spacingAndGlyphs">&#8722;1</text>
<text x="38.50" y="341.00" font-size="11.8" text-anchor="end" fill="#000">2</text>
<text x="38.50" y="402.00" font-size="11.8" text-anchor="end" fill="#000">1</text>
<text x="38.50" y="462.00" font-size="11.8" text-anchor="end" fill="#000">0.5</text>
<text x="373.50" y="341.00" font-size="11.8" text-anchor="start" fill="#000">2</text>
<text x="373.50" y="402.00" font-size="11.8" text-anchor="start" fill="#000">1</text>
<text x="373.50" y="462.00" font-size="11.8" text-anchor="start" fill="#000">0.5</text>
<text x="51.80" y="489.00" font-size="11.8" text-anchor="middle" fill="#000">0</text>
<text x="151.45" y="489.00" font-size="11.8" text-anchor="middle" fill="#000">1</text>
<text x="251.10" y="489.00" font-size="11.8" text-anchor="middle" fill="#000">2</text>
<text x="350.75" y="489.00" font-size="11.8" text-anchor="middle" fill="#000">3</text>
<text transform="translate(380.3,127) rotate(-90)" font-size="9.6" fill="#808080" textLength="108.1" lengthAdjust="spacingAndGlyphs">Rivet 4.1.0, &#8805; 100k events</text>
<text transform="translate(381.5,313.7) rotate(-90)" font-size="9.6" fill="#808080" textLength="147.1" lengthAdjust="spacingAndGlyphs">mcplots.cern.ch [arXiv:2401.10621]</text>
<text transform="translate(17.2,446.1) rotate(-90)" font-size="9.6" fill="#111" textLength="100.2" lengthAdjust="spacingAndGlyphs">Ratio to Pythia 6.428 370</text>
</svg></body></html>
